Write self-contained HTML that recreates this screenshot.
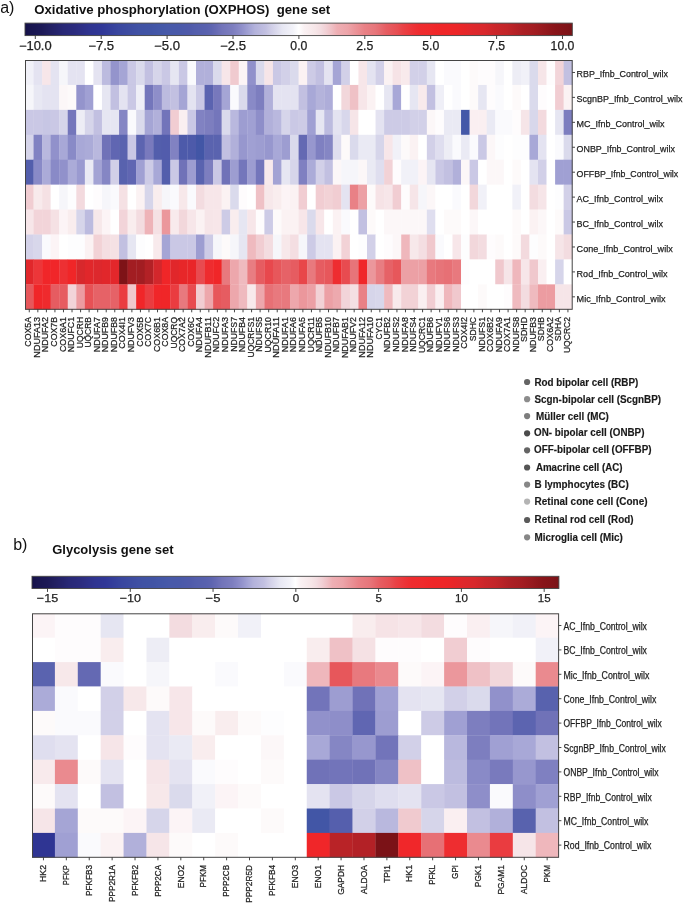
<!DOCTYPE html><html><head><meta charset="utf-8"><style>
.lb{stroke:#1e1e1e;stroke-width:0.25px;}.lg{stroke:#1a1a1a;stroke-width:0.15px;}
html,body{margin:0;padding:0;background:#fff;}
svg{display:block;font-family:"Liberation Sans", sans-serif;filter:blur(0.3px);}
</style></head><body>
<svg width="685" height="904" viewBox="0 0 685 904">
<defs>
<linearGradient id="cbg" x1="0" x2="1" y1="0" y2="0"><stop offset="0" stop-color="#141048"/><stop offset="0.01" stop-color="#18154f"/><stop offset="0.03" stop-color="#1c1957"/><stop offset="0.04" stop-color="#201e5e"/><stop offset="0.05" stop-color="#232166"/><stop offset="0.06" stop-color="#25246e"/><stop offset="0.07" stop-color="#282876"/><stop offset="0.09" stop-color="#2b2b7e"/><stop offset="0.1" stop-color="#2d2e84"/><stop offset="0.11" stop-color="#2e318b"/><stop offset="0.12" stop-color="#2f3491"/><stop offset="0.14" stop-color="#303797"/><stop offset="0.15" stop-color="#333c9a"/><stop offset="0.16" stop-color="#36419c"/><stop offset="0.17" stop-color="#39469f"/><stop offset="0.19" stop-color="#3d4ca1"/><stop offset="0.2" stop-color="#3f4fa3"/><stop offset="0.21" stop-color="#4052a4"/><stop offset="0.23" stop-color="#4154a5"/><stop offset="0.24" stop-color="#4356a7"/><stop offset="0.25" stop-color="#4458a8"/><stop offset="0.26" stop-color="#4759a9"/><stop offset="0.28" stop-color="#4959a9"/><stop offset="0.29" stop-color="#4c5aaa"/><stop offset="0.3" stop-color="#4f5aaa"/><stop offset="0.31" stop-color="#535eac"/><stop offset="0.33" stop-color="#5861ae"/><stop offset="0.34" stop-color="#5d64b0"/><stop offset="0.35" stop-color="#676bb4"/><stop offset="0.36" stop-color="#7274b9"/><stop offset="0.38" stop-color="#7d7ebf"/><stop offset="0.39" stop-color="#8888c6"/><stop offset="0.4" stop-color="#9595cd"/><stop offset="0.41" stop-color="#a4a4d5"/><stop offset="0.42" stop-color="#b3b2db"/><stop offset="0.44" stop-color="#c2c0e1"/><stop offset="0.45" stop-color="#d0cee7"/><stop offset="0.46" stop-color="#dbdaed"/><stop offset="0.47" stop-color="#e7e7f3"/><stop offset="0.49" stop-color="#f3f3f9"/><stop offset="0.5" stop-color="#ffffff"/><stop offset="0.51" stop-color="#faf1f3"/><stop offset="0.53" stop-color="#f6e6e8"/><stop offset="0.54" stop-color="#f3dde1"/><stop offset="0.55" stop-color="#f1d0d5"/><stop offset="0.56" stop-color="#efc1c6"/><stop offset="0.57" stop-color="#eeafb4"/><stop offset="0.59" stop-color="#eda4a9"/><stop offset="0.6" stop-color="#eb989d"/><stop offset="0.61" stop-color="#ea8d92"/><stop offset="0.62" stop-color="#e98186"/><stop offset="0.64" stop-color="#e7767b"/><stop offset="0.65" stop-color="#e66a6f"/><stop offset="0.66" stop-color="#e65d62"/><stop offset="0.68" stop-color="#e74f53"/><stop offset="0.69" stop-color="#e94246"/><stop offset="0.7" stop-color="#eb3a3e"/><stop offset="0.71" stop-color="#ed3236"/><stop offset="0.72" stop-color="#ee2c2f"/><stop offset="0.74" stop-color="#ef2a2c"/><stop offset="0.75" stop-color="#f0272a"/><stop offset="0.76" stop-color="#ef2628"/><stop offset="0.78" stop-color="#ee2628"/><stop offset="0.79" stop-color="#ec2628"/><stop offset="0.8" stop-color="#e82629"/><stop offset="0.81" stop-color="#e3272b"/><stop offset="0.82" stop-color="#de282c"/><stop offset="0.84" stop-color="#d8282c"/><stop offset="0.85" stop-color="#d1272b"/><stop offset="0.86" stop-color="#ca262a"/><stop offset="0.88" stop-color="#c22529"/><stop offset="0.89" stop-color="#ba2327"/><stop offset="0.9" stop-color="#b22126"/><stop offset="0.91" stop-color="#ab1f24"/><stop offset="0.93" stop-color="#a31d22"/><stop offset="0.94" stop-color="#9c1b20"/><stop offset="0.95" stop-color="#95191e"/><stop offset="0.96" stop-color="#8e161b"/><stop offset="0.97" stop-color="#881419"/><stop offset="0.99" stop-color="#801318"/><stop offset="1" stop-color="#781216"/></linearGradient>
</defs>
<rect width="685" height="904" fill="#fff"/>
<text x="0.2" y="12.6" font-size="16" fill="#111">a)</text>
<text x="34.2" y="14.2" font-size="13.7" font-weight="bold" fill="#111" xml:space="preserve" textLength="296.05" lengthAdjust="spacingAndGlyphs">Oxidative phosphorylation (OXPHOS)  gene set</text>
<text x="13.2" y="550.3" font-size="16" fill="#111">b)</text>
<text x="52.2" y="554.0" font-size="13.5" font-weight="bold" fill="#111" textLength="121.4" lengthAdjust="spacingAndGlyphs">Glycolysis gene set</text>
<rect x="25" y="23.1" width="547.3" height="12.5" fill="url(#cbg)" stroke="#444" stroke-width="0.9"/>
<line x1="35.3" x2="35.3" y1="35.6" y2="39" stroke="#333" stroke-width="0.9"/>
<text class="lb" x="35.3" y="49.8" text-anchor="middle" font-size="12" fill="#1e1e1e" textLength="32.79" lengthAdjust="spacingAndGlyphs">−10.0</text>
<line x1="101.2" x2="101.2" y1="35.6" y2="39" stroke="#333" stroke-width="0.9"/>
<text class="lb" x="101.2" y="49.8" text-anchor="middle" font-size="12" fill="#1e1e1e" textLength="25.98" lengthAdjust="spacingAndGlyphs">−7.5</text>
<line x1="167.1" x2="167.1" y1="35.6" y2="39" stroke="#333" stroke-width="0.9"/>
<text class="lb" x="167.1" y="49.8" text-anchor="middle" font-size="12" fill="#1e1e1e" textLength="25.98" lengthAdjust="spacingAndGlyphs">−5.0</text>
<line x1="233" x2="233" y1="35.6" y2="39" stroke="#333" stroke-width="0.9"/>
<text class="lb" x="233" y="49.8" text-anchor="middle" font-size="12" fill="#1e1e1e" textLength="25.98" lengthAdjust="spacingAndGlyphs">−2.5</text>
<line x1="298.9" x2="298.9" y1="35.6" y2="39" stroke="#333" stroke-width="0.9"/>
<text class="lb" x="298.9" y="49.8" text-anchor="middle" font-size="12" fill="#1e1e1e" textLength="17.02" lengthAdjust="spacingAndGlyphs">0.0</text>
<line x1="364.8" x2="364.8" y1="35.6" y2="39" stroke="#333" stroke-width="0.9"/>
<text class="lb" x="364.8" y="49.8" text-anchor="middle" font-size="12" fill="#1e1e1e" textLength="17.02" lengthAdjust="spacingAndGlyphs">2.5</text>
<line x1="430.7" x2="430.7" y1="35.6" y2="39" stroke="#333" stroke-width="0.9"/>
<text class="lb" x="430.7" y="49.8" text-anchor="middle" font-size="12" fill="#1e1e1e" textLength="17.02" lengthAdjust="spacingAndGlyphs">5.0</text>
<line x1="496.6" x2="496.6" y1="35.6" y2="39" stroke="#333" stroke-width="0.9"/>
<text class="lb" x="496.6" y="49.8" text-anchor="middle" font-size="12" fill="#1e1e1e" textLength="17.02" lengthAdjust="spacingAndGlyphs">7.5</text>
<line x1="562.5" x2="562.5" y1="35.6" y2="39" stroke="#333" stroke-width="0.9"/>
<text class="lb" x="562.5" y="49.8" text-anchor="middle" font-size="12" fill="#1e1e1e" textLength="23.82" lengthAdjust="spacingAndGlyphs">10.0</text>
<rect x="25" y="60" width="8.85" height="25.23" fill="#f1f1f8"/>
<rect x="33.55" y="60" width="8.85" height="25.23" fill="#e4e3f1"/>
<rect x="42.1" y="60" width="8.85" height="25.23" fill="#f7e6e9"/>
<rect x="50.65" y="60" width="8.85" height="25.23" fill="#e4e3f1"/>
<rect x="59.2" y="60" width="8.85" height="25.23" fill="#f6f6fa"/>
<rect x="67.75" y="60" width="8.85" height="25.23" fill="#e4e3f1"/>
<rect x="76.3" y="60" width="8.85" height="25.23" fill="#e4e3f1"/>
<rect x="84.85" y="60" width="8.85" height="25.23" fill="#ffffff"/>
<rect x="93.4" y="60" width="8.85" height="25.23" fill="#e4e3f1"/>
<rect x="101.95" y="60" width="8.85" height="25.23" fill="#bcbbdf"/>
<rect x="110.5" y="60" width="8.85" height="25.23" fill="#9494cc"/>
<rect x="119.05" y="60" width="8.85" height="25.23" fill="#a5a5d5"/>
<rect x="127.6" y="60" width="8.85" height="25.23" fill="#cac8e5"/>
<rect x="136.15" y="60" width="8.85" height="25.23" fill="#dadaec"/>
<rect x="144.7" y="60" width="8.85" height="25.23" fill="#c2c0e1"/>
<rect x="153.25" y="60" width="8.85" height="25.23" fill="#d6d5ea"/>
<rect x="161.8" y="60" width="8.85" height="25.23" fill="#cac8e5"/>
<rect x="170.35" y="60" width="8.85" height="25.23" fill="#e6e6f2"/>
<rect x="178.9" y="60" width="8.85" height="25.23" fill="#cac8e5"/>
<rect x="187.45" y="60" width="8.85" height="25.23" fill="#fafafd"/>
<rect x="196" y="60" width="8.85" height="25.23" fill="#b1b0da"/>
<rect x="204.55" y="60" width="8.85" height="25.23" fill="#b1b0da"/>
<rect x="213.1" y="60" width="8.85" height="25.23" fill="#dadaec"/>
<rect x="221.65" y="60" width="8.85" height="25.23" fill="#f7e6e9"/>
<rect x="230.2" y="60" width="8.85" height="25.23" fill="#f0cacf"/>
<rect x="238.75" y="60" width="8.85" height="25.23" fill="#fcf4f6"/>
<rect x="247.3" y="60" width="8.85" height="25.23" fill="#9191cb"/>
<rect x="255.85" y="60" width="8.85" height="25.23" fill="#dadaec"/>
<rect x="264.4" y="60" width="8.85" height="25.23" fill="#f6e5e8"/>
<rect x="272.95" y="60" width="8.85" height="25.23" fill="#cac8e5"/>
<rect x="281.5" y="60" width="8.85" height="25.23" fill="#d2d0e8"/>
<rect x="290.05" y="60" width="8.85" height="25.23" fill="#dadaec"/>
<rect x="298.6" y="60" width="8.85" height="25.23" fill="#fbf2f3"/>
<rect x="307.15" y="60" width="8.85" height="25.23" fill="#cdcbe6"/>
<rect x="315.7" y="60" width="8.85" height="25.23" fill="#c2c0e1"/>
<rect x="324.25" y="60" width="8.85" height="25.23" fill="#e4e3f1"/>
<rect x="332.8" y="60" width="8.85" height="25.23" fill="#a5a5d5"/>
<rect x="341.35" y="60" width="8.85" height="25.23" fill="#d2d0e8"/>
<rect x="349.9" y="60" width="8.85" height="25.23" fill="#ffffff"/>
<rect x="358.45" y="60" width="8.85" height="25.23" fill="#f7e6e9"/>
<rect x="367" y="60" width="8.85" height="25.23" fill="#e4e3f1"/>
<rect x="375.55" y="60" width="8.85" height="25.23" fill="#d2d0e8"/>
<rect x="384.1" y="60" width="8.85" height="25.23" fill="#fbf2f3"/>
<rect x="392.65" y="60" width="8.85" height="25.23" fill="#f6e3e6"/>
<rect x="401.2" y="60" width="8.85" height="25.23" fill="#f8eaec"/>
<rect x="409.75" y="60" width="8.85" height="25.23" fill="#d2d0e8"/>
<rect x="418.3" y="60" width="8.85" height="25.23" fill="#d2d0e8"/>
<rect x="426.85" y="60" width="8.85" height="25.23" fill="#e6e6f2"/>
<rect x="435.4" y="60" width="8.85" height="25.23" fill="#ffffff"/>
<rect x="443.95" y="60" width="8.85" height="25.23" fill="#fafafd"/>
<rect x="452.5" y="60" width="8.85" height="25.23" fill="#fafafd"/>
<rect x="461.05" y="60" width="8.85" height="25.23" fill="#ffffff"/>
<rect x="469.6" y="60" width="8.85" height="25.23" fill="#fdfafa"/>
<rect x="478.15" y="60" width="8.85" height="25.23" fill="#fefcfd"/>
<rect x="486.7" y="60" width="8.85" height="25.23" fill="#fefcfd"/>
<rect x="495.25" y="60" width="8.85" height="25.23" fill="#f6f6fa"/>
<rect x="503.8" y="60" width="8.85" height="25.23" fill="#ffffff"/>
<rect x="512.35" y="60" width="8.85" height="25.23" fill="#ededf5"/>
<rect x="520.9" y="60" width="8.85" height="25.23" fill="#f1f1f8"/>
<rect x="529.45" y="60" width="8.85" height="25.23" fill="#dadaec"/>
<rect x="538" y="60" width="8.85" height="25.23" fill="#f6e5e8"/>
<rect x="546.55" y="60" width="8.85" height="25.23" fill="#fefcfd"/>
<rect x="555.1" y="60" width="8.85" height="25.23" fill="#f2d4d9"/>
<rect x="563.65" y="60" width="8.85" height="25.23" fill="#c2c0e1"/>
<rect x="25" y="84.93" width="8.85" height="25.23" fill="#f6f6fa"/>
<rect x="33.55" y="84.93" width="8.85" height="25.23" fill="#e8e8f3"/>
<rect x="42.1" y="84.93" width="8.85" height="25.23" fill="#e4e3f1"/>
<rect x="50.65" y="84.93" width="8.85" height="25.23" fill="#e4e3f1"/>
<rect x="59.2" y="84.93" width="8.85" height="25.23" fill="#fcf7f8"/>
<rect x="67.75" y="84.93" width="8.85" height="25.23" fill="#fdfafa"/>
<rect x="76.3" y="84.93" width="8.85" height="25.23" fill="#9494cc"/>
<rect x="84.85" y="84.93" width="8.85" height="25.23" fill="#a0a0d3"/>
<rect x="93.4" y="84.93" width="8.85" height="25.23" fill="#ffffff"/>
<rect x="101.95" y="84.93" width="8.85" height="25.23" fill="#e6e6f2"/>
<rect x="110.5" y="84.93" width="8.85" height="25.23" fill="#c2c0e1"/>
<rect x="119.05" y="84.93" width="8.85" height="25.23" fill="#e4e3f1"/>
<rect x="127.6" y="84.93" width="8.85" height="25.23" fill="#cac8e5"/>
<rect x="136.15" y="84.93" width="8.85" height="25.23" fill="#efeff7"/>
<rect x="144.7" y="84.93" width="8.85" height="25.23" fill="#7476bb"/>
<rect x="153.25" y="84.93" width="8.85" height="25.23" fill="#8e8ec9"/>
<rect x="161.8" y="84.93" width="8.85" height="25.23" fill="#bcbbdf"/>
<rect x="170.35" y="84.93" width="8.85" height="25.23" fill="#c2c0e1"/>
<rect x="178.9" y="84.93" width="8.85" height="25.23" fill="#a5a5d5"/>
<rect x="187.45" y="84.93" width="8.85" height="25.23" fill="#e4e3f1"/>
<rect x="196" y="84.93" width="8.85" height="25.23" fill="#cac8e5"/>
<rect x="204.55" y="84.93" width="8.85" height="25.23" fill="#5b63b0"/>
<rect x="213.1" y="84.93" width="8.85" height="25.23" fill="#7778bc"/>
<rect x="221.65" y="84.93" width="8.85" height="25.23" fill="#a5a5d5"/>
<rect x="230.2" y="84.93" width="8.85" height="25.23" fill="#fafafd"/>
<rect x="238.75" y="84.93" width="8.85" height="25.23" fill="#dadaec"/>
<rect x="247.3" y="84.93" width="8.85" height="25.23" fill="#898ac7"/>
<rect x="255.85" y="84.93" width="8.85" height="25.23" fill="#7d7ebf"/>
<rect x="264.4" y="84.93" width="8.85" height="25.23" fill="#b1b0da"/>
<rect x="272.95" y="84.93" width="8.85" height="25.23" fill="#e4e3f1"/>
<rect x="281.5" y="84.93" width="8.85" height="25.23" fill="#e4e3f1"/>
<rect x="290.05" y="84.93" width="8.85" height="25.23" fill="#e4e3f1"/>
<rect x="298.6" y="84.93" width="8.85" height="25.23" fill="#c2c0e1"/>
<rect x="307.15" y="84.93" width="8.85" height="25.23" fill="#a8a8d7"/>
<rect x="315.7" y="84.93" width="8.85" height="25.23" fill="#b4b3db"/>
<rect x="324.25" y="84.93" width="8.85" height="25.23" fill="#aeadd9"/>
<rect x="332.8" y="84.93" width="8.85" height="25.23" fill="#ffffff"/>
<rect x="341.35" y="84.93" width="8.85" height="25.23" fill="#f2d7db"/>
<rect x="349.9" y="84.93" width="8.85" height="25.23" fill="#efc1c6"/>
<rect x="358.45" y="84.93" width="8.85" height="25.23" fill="#f7e6e9"/>
<rect x="367" y="84.93" width="8.85" height="25.23" fill="#fbf2f3"/>
<rect x="375.55" y="84.93" width="8.85" height="25.23" fill="#ffffff"/>
<rect x="384.1" y="84.93" width="8.85" height="25.23" fill="#e6e6f2"/>
<rect x="392.65" y="84.93" width="8.85" height="25.23" fill="#a8a8d7"/>
<rect x="401.2" y="84.93" width="8.85" height="25.23" fill="#ffffff"/>
<rect x="409.75" y="84.93" width="8.85" height="25.23" fill="#e6e6f2"/>
<rect x="418.3" y="84.93" width="8.85" height="25.23" fill="#f8eaec"/>
<rect x="426.85" y="84.93" width="8.85" height="25.23" fill="#c2c0e1"/>
<rect x="435.4" y="84.93" width="8.85" height="25.23" fill="#efeff7"/>
<rect x="443.95" y="84.93" width="8.85" height="25.23" fill="#ffffff"/>
<rect x="452.5" y="84.93" width="8.85" height="25.23" fill="#fafafd"/>
<rect x="461.05" y="84.93" width="8.85" height="25.23" fill="#ffffff"/>
<rect x="469.6" y="84.93" width="8.85" height="25.23" fill="#fdfafa"/>
<rect x="478.15" y="84.93" width="8.85" height="25.23" fill="#e6e6f2"/>
<rect x="486.7" y="84.93" width="8.85" height="25.23" fill="#fefcfd"/>
<rect x="495.25" y="84.93" width="8.85" height="25.23" fill="#fafafd"/>
<rect x="503.8" y="84.93" width="8.85" height="25.23" fill="#ffffff"/>
<rect x="512.35" y="84.93" width="8.85" height="25.23" fill="#fdfafa"/>
<rect x="520.9" y="84.93" width="8.85" height="25.23" fill="#ffffff"/>
<rect x="529.45" y="84.93" width="8.85" height="25.23" fill="#dadaec"/>
<rect x="538" y="84.93" width="8.85" height="25.23" fill="#fefcfd"/>
<rect x="546.55" y="84.93" width="8.85" height="25.23" fill="#ffffff"/>
<rect x="555.1" y="84.93" width="8.85" height="25.23" fill="#f1cdd2"/>
<rect x="563.65" y="84.93" width="8.85" height="25.23" fill="#fbf2f3"/>
<rect x="25" y="109.86" width="8.85" height="25.23" fill="#cac8e5"/>
<rect x="33.55" y="109.86" width="8.85" height="25.23" fill="#cac8e5"/>
<rect x="42.1" y="109.86" width="8.85" height="25.23" fill="#c7c6e4"/>
<rect x="50.65" y="109.86" width="8.85" height="25.23" fill="#cac8e5"/>
<rect x="59.2" y="109.86" width="8.85" height="25.23" fill="#d6d5ea"/>
<rect x="67.75" y="109.86" width="8.85" height="25.23" fill="#7476bb"/>
<rect x="76.3" y="109.86" width="8.85" height="25.23" fill="#ededf5"/>
<rect x="84.85" y="109.86" width="8.85" height="25.23" fill="#d6d5ea"/>
<rect x="93.4" y="109.86" width="8.85" height="25.23" fill="#c2c0e1"/>
<rect x="101.95" y="109.86" width="8.85" height="25.23" fill="#e6e6f2"/>
<rect x="110.5" y="109.86" width="8.85" height="25.23" fill="#e6e6f2"/>
<rect x="119.05" y="109.86" width="8.85" height="25.23" fill="#8586c4"/>
<rect x="127.6" y="109.86" width="8.85" height="25.23" fill="#fafafd"/>
<rect x="136.15" y="109.86" width="8.85" height="25.23" fill="#dadaec"/>
<rect x="144.7" y="109.86" width="8.85" height="25.23" fill="#a5a5d5"/>
<rect x="153.25" y="109.86" width="8.85" height="25.23" fill="#b1b0da"/>
<rect x="161.8" y="109.86" width="8.85" height="25.23" fill="#7274ba"/>
<rect x="170.35" y="109.86" width="8.85" height="25.23" fill="#f1cdd2"/>
<rect x="178.9" y="109.86" width="8.85" height="25.23" fill="#faeff1"/>
<rect x="187.45" y="109.86" width="8.85" height="25.23" fill="#cac8e5"/>
<rect x="196" y="109.86" width="8.85" height="25.23" fill="#8182c2"/>
<rect x="204.55" y="109.86" width="8.85" height="25.23" fill="#7d7ebf"/>
<rect x="213.1" y="109.86" width="8.85" height="25.23" fill="#7476bb"/>
<rect x="221.65" y="109.86" width="8.85" height="25.23" fill="#dadaec"/>
<rect x="230.2" y="109.86" width="8.85" height="25.23" fill="#b9b8de"/>
<rect x="238.75" y="109.86" width="8.85" height="25.23" fill="#9d9dd1"/>
<rect x="247.3" y="109.86" width="8.85" height="25.23" fill="#a0a0d3"/>
<rect x="255.85" y="109.86" width="8.85" height="25.23" fill="#8e8ec9"/>
<rect x="264.4" y="109.86" width="8.85" height="25.23" fill="#b1b0da"/>
<rect x="272.95" y="109.86" width="8.85" height="25.23" fill="#b9b8de"/>
<rect x="281.5" y="109.86" width="8.85" height="25.23" fill="#d6d5ea"/>
<rect x="290.05" y="109.86" width="8.85" height="25.23" fill="#cac8e5"/>
<rect x="298.6" y="109.86" width="8.85" height="25.23" fill="#cdcbe6"/>
<rect x="307.15" y="109.86" width="8.85" height="25.23" fill="#a0a0d3"/>
<rect x="315.7" y="109.86" width="8.85" height="25.23" fill="#e6e6f2"/>
<rect x="324.25" y="109.86" width="8.85" height="25.23" fill="#bcbbdf"/>
<rect x="332.8" y="109.86" width="8.85" height="25.23" fill="#e4e3f1"/>
<rect x="341.35" y="109.86" width="8.85" height="25.23" fill="#d8d7eb"/>
<rect x="349.9" y="109.86" width="8.85" height="25.23" fill="#f6e5e8"/>
<rect x="358.45" y="109.86" width="8.85" height="25.23" fill="#ffffff"/>
<rect x="367" y="109.86" width="8.85" height="25.23" fill="#ffffff"/>
<rect x="375.55" y="109.86" width="8.85" height="25.23" fill="#e4e3f1"/>
<rect x="384.1" y="109.86" width="8.85" height="25.23" fill="#cdcbe6"/>
<rect x="392.65" y="109.86" width="8.85" height="25.23" fill="#cdcbe6"/>
<rect x="401.2" y="109.86" width="8.85" height="25.23" fill="#cdcbe6"/>
<rect x="409.75" y="109.86" width="8.85" height="25.23" fill="#d2d0e8"/>
<rect x="418.3" y="109.86" width="8.85" height="25.23" fill="#d2d0e8"/>
<rect x="426.85" y="109.86" width="8.85" height="25.23" fill="#fcf7f8"/>
<rect x="435.4" y="109.86" width="8.85" height="25.23" fill="#fefcfd"/>
<rect x="443.95" y="109.86" width="8.85" height="25.23" fill="#eaeaf4"/>
<rect x="452.5" y="109.86" width="8.85" height="25.23" fill="#eaeaf4"/>
<rect x="461.05" y="109.86" width="8.85" height="25.23" fill="#4458a8"/>
<rect x="469.6" y="109.86" width="8.85" height="25.23" fill="#faeff1"/>
<rect x="478.15" y="109.86" width="8.85" height="25.23" fill="#faeff1"/>
<rect x="486.7" y="109.86" width="8.85" height="25.23" fill="#eaeaf4"/>
<rect x="495.25" y="109.86" width="8.85" height="25.23" fill="#fafafd"/>
<rect x="503.8" y="109.86" width="8.85" height="25.23" fill="#fafafd"/>
<rect x="512.35" y="109.86" width="8.85" height="25.23" fill="#fefcfd"/>
<rect x="520.9" y="109.86" width="8.85" height="25.23" fill="#f6e5e8"/>
<rect x="529.45" y="109.86" width="8.85" height="25.23" fill="#d8d7eb"/>
<rect x="538" y="109.86" width="8.85" height="25.23" fill="#f3dade"/>
<rect x="546.55" y="109.86" width="8.85" height="25.23" fill="#ffffff"/>
<rect x="555.1" y="109.86" width="8.85" height="25.23" fill="#e6e6f2"/>
<rect x="563.65" y="109.86" width="8.85" height="25.23" fill="#7d7ebf"/>
<rect x="25" y="134.79" width="8.85" height="25.23" fill="#d6d5ea"/>
<rect x="33.55" y="134.79" width="8.85" height="25.23" fill="#8182c2"/>
<rect x="42.1" y="134.79" width="8.85" height="25.23" fill="#b9b8de"/>
<rect x="50.65" y="134.79" width="8.85" height="25.23" fill="#9191cb"/>
<rect x="59.2" y="134.79" width="8.85" height="25.23" fill="#a8a8d7"/>
<rect x="67.75" y="134.79" width="8.85" height="25.23" fill="#898ac7"/>
<rect x="76.3" y="134.79" width="8.85" height="25.23" fill="#a8a8d7"/>
<rect x="84.85" y="134.79" width="8.85" height="25.23" fill="#ababd8"/>
<rect x="93.4" y="134.79" width="8.85" height="25.23" fill="#b9b8de"/>
<rect x="101.95" y="134.79" width="8.85" height="25.23" fill="#7072b8"/>
<rect x="110.5" y="134.79" width="8.85" height="25.23" fill="#6066b2"/>
<rect x="119.05" y="134.79" width="8.85" height="25.23" fill="#5a63af"/>
<rect x="127.6" y="134.79" width="8.85" height="25.23" fill="#cac8e5"/>
<rect x="136.15" y="134.79" width="8.85" height="25.23" fill="#5c64b0"/>
<rect x="144.7" y="134.79" width="8.85" height="25.23" fill="#797abd"/>
<rect x="153.25" y="134.79" width="8.85" height="25.23" fill="#535eac"/>
<rect x="161.8" y="134.79" width="8.85" height="25.23" fill="#525cac"/>
<rect x="170.35" y="134.79" width="8.85" height="25.23" fill="#8182c2"/>
<rect x="178.9" y="134.79" width="8.85" height="25.23" fill="#4d5aaa"/>
<rect x="187.45" y="134.79" width="8.85" height="25.23" fill="#4d5aaa"/>
<rect x="196" y="134.79" width="8.85" height="25.23" fill="#4256a6"/>
<rect x="204.55" y="134.79" width="8.85" height="25.23" fill="#5a63af"/>
<rect x="213.1" y="134.79" width="8.85" height="25.23" fill="#5a63af"/>
<rect x="221.65" y="134.79" width="8.85" height="25.23" fill="#c2c0e1"/>
<rect x="230.2" y="134.79" width="8.85" height="25.23" fill="#b1b0da"/>
<rect x="238.75" y="134.79" width="8.85" height="25.23" fill="#9797ce"/>
<rect x="247.3" y="134.79" width="8.85" height="25.23" fill="#a0a0d3"/>
<rect x="255.85" y="134.79" width="8.85" height="25.23" fill="#9d9dd1"/>
<rect x="264.4" y="134.79" width="8.85" height="25.23" fill="#9797ce"/>
<rect x="272.95" y="134.79" width="8.85" height="25.23" fill="#a8a8d7"/>
<rect x="281.5" y="134.79" width="8.85" height="25.23" fill="#9d9dd1"/>
<rect x="290.05" y="134.79" width="8.85" height="25.23" fill="#dadaec"/>
<rect x="298.6" y="134.79" width="8.85" height="25.23" fill="#6469b3"/>
<rect x="307.15" y="134.79" width="8.85" height="25.23" fill="#9797ce"/>
<rect x="315.7" y="134.79" width="8.85" height="25.23" fill="#7f80c1"/>
<rect x="324.25" y="134.79" width="8.85" height="25.23" fill="#8586c4"/>
<rect x="332.8" y="134.79" width="8.85" height="25.23" fill="#dfdeef"/>
<rect x="341.35" y="134.79" width="8.85" height="25.23" fill="#fdfafa"/>
<rect x="349.9" y="134.79" width="8.85" height="25.23" fill="#dadaec"/>
<rect x="358.45" y="134.79" width="8.85" height="25.23" fill="#eaeaf4"/>
<rect x="367" y="134.79" width="8.85" height="25.23" fill="#eaeaf4"/>
<rect x="375.55" y="134.79" width="8.85" height="25.23" fill="#d6d5ea"/>
<rect x="384.1" y="134.79" width="8.85" height="25.23" fill="#f7e6e9"/>
<rect x="392.65" y="134.79" width="8.85" height="25.23" fill="#f1f1f8"/>
<rect x="401.2" y="134.79" width="8.85" height="25.23" fill="#fdfafa"/>
<rect x="409.75" y="134.79" width="8.85" height="25.23" fill="#fbf2f3"/>
<rect x="418.3" y="134.79" width="8.85" height="25.23" fill="#ffffff"/>
<rect x="426.85" y="134.79" width="8.85" height="25.23" fill="#d2d0e8"/>
<rect x="435.4" y="134.79" width="8.85" height="25.23" fill="#dfdeef"/>
<rect x="443.95" y="134.79" width="8.85" height="25.23" fill="#ededf5"/>
<rect x="452.5" y="134.79" width="8.85" height="25.23" fill="#fafafd"/>
<rect x="461.05" y="134.79" width="8.85" height="25.23" fill="#eaeaf4"/>
<rect x="469.6" y="134.79" width="8.85" height="25.23" fill="#fafafd"/>
<rect x="478.15" y="134.79" width="8.85" height="25.23" fill="#cac8e5"/>
<rect x="486.7" y="134.79" width="8.85" height="25.23" fill="#fcf7f8"/>
<rect x="495.25" y="134.79" width="8.85" height="25.23" fill="#fdfdfe"/>
<rect x="503.8" y="134.79" width="8.85" height="25.23" fill="#ffffff"/>
<rect x="512.35" y="134.79" width="8.85" height="25.23" fill="#fdfdfe"/>
<rect x="520.9" y="134.79" width="8.85" height="25.23" fill="#fdfdfe"/>
<rect x="529.45" y="134.79" width="8.85" height="25.23" fill="#a8a8d7"/>
<rect x="538" y="134.79" width="8.85" height="25.23" fill="#e4e3f1"/>
<rect x="546.55" y="134.79" width="8.85" height="25.23" fill="#ffffff"/>
<rect x="555.1" y="134.79" width="8.85" height="25.23" fill="#fafafd"/>
<rect x="563.65" y="134.79" width="8.85" height="25.23" fill="#dadaec"/>
<rect x="25" y="159.72" width="8.85" height="25.23" fill="#535eac"/>
<rect x="33.55" y="159.72" width="8.85" height="25.23" fill="#898ac7"/>
<rect x="42.1" y="159.72" width="8.85" height="25.23" fill="#ababd8"/>
<rect x="50.65" y="159.72" width="8.85" height="25.23" fill="#898ac7"/>
<rect x="59.2" y="159.72" width="8.85" height="25.23" fill="#9191cb"/>
<rect x="67.75" y="159.72" width="8.85" height="25.23" fill="#ababd8"/>
<rect x="76.3" y="159.72" width="8.85" height="25.23" fill="#9a9ad0"/>
<rect x="84.85" y="159.72" width="8.85" height="25.23" fill="#eaeaf4"/>
<rect x="93.4" y="159.72" width="8.85" height="25.23" fill="#a3a3d4"/>
<rect x="101.95" y="159.72" width="8.85" height="25.23" fill="#8586c4"/>
<rect x="110.5" y="159.72" width="8.85" height="25.23" fill="#d2d0e8"/>
<rect x="119.05" y="159.72" width="8.85" height="25.23" fill="#5862ae"/>
<rect x="127.6" y="159.72" width="8.85" height="25.23" fill="#6066b2"/>
<rect x="136.15" y="159.72" width="8.85" height="25.23" fill="#a0a0d3"/>
<rect x="144.7" y="159.72" width="8.85" height="25.23" fill="#cdcbe6"/>
<rect x="153.25" y="159.72" width="8.85" height="25.23" fill="#a8a8d7"/>
<rect x="161.8" y="159.72" width="8.85" height="25.23" fill="#535eac"/>
<rect x="170.35" y="159.72" width="8.85" height="25.23" fill="#cac8e5"/>
<rect x="178.9" y="159.72" width="8.85" height="25.23" fill="#7072b8"/>
<rect x="187.45" y="159.72" width="8.85" height="25.23" fill="#9d9dd1"/>
<rect x="196" y="159.72" width="8.85" height="25.23" fill="#5a63af"/>
<rect x="204.55" y="159.72" width="8.85" height="25.23" fill="#7d7ebf"/>
<rect x="213.1" y="159.72" width="8.85" height="25.23" fill="#cac8e5"/>
<rect x="221.65" y="159.72" width="8.85" height="25.23" fill="#7072b8"/>
<rect x="230.2" y="159.72" width="8.85" height="25.23" fill="#9d9dd1"/>
<rect x="238.75" y="159.72" width="8.85" height="25.23" fill="#7476bb"/>
<rect x="247.3" y="159.72" width="8.85" height="25.23" fill="#9d9dd1"/>
<rect x="255.85" y="159.72" width="8.85" height="25.23" fill="#7476bb"/>
<rect x="264.4" y="159.72" width="8.85" height="25.23" fill="#f8eaec"/>
<rect x="272.95" y="159.72" width="8.85" height="25.23" fill="#a3a3d4"/>
<rect x="281.5" y="159.72" width="8.85" height="25.23" fill="#e6e6f2"/>
<rect x="290.05" y="159.72" width="8.85" height="25.23" fill="#d6d5ea"/>
<rect x="298.6" y="159.72" width="8.85" height="25.23" fill="#7f80c1"/>
<rect x="307.15" y="159.72" width="8.85" height="25.23" fill="#ababd8"/>
<rect x="315.7" y="159.72" width="8.85" height="25.23" fill="#d2d0e8"/>
<rect x="324.25" y="159.72" width="8.85" height="25.23" fill="#c2c0e1"/>
<rect x="332.8" y="159.72" width="8.85" height="25.23" fill="#fcf7f8"/>
<rect x="341.35" y="159.72" width="8.85" height="25.23" fill="#f6f6fa"/>
<rect x="349.9" y="159.72" width="8.85" height="25.23" fill="#f6f6fa"/>
<rect x="358.45" y="159.72" width="8.85" height="25.23" fill="#fcf7f8"/>
<rect x="367" y="159.72" width="8.85" height="25.23" fill="#eaeaf4"/>
<rect x="375.55" y="159.72" width="8.85" height="25.23" fill="#dfdeef"/>
<rect x="384.1" y="159.72" width="8.85" height="25.23" fill="#f2d2d6"/>
<rect x="392.65" y="159.72" width="8.85" height="25.23" fill="#fefcfd"/>
<rect x="401.2" y="159.72" width="8.85" height="25.23" fill="#f1f1f8"/>
<rect x="409.75" y="159.72" width="8.85" height="25.23" fill="#f1f1f8"/>
<rect x="418.3" y="159.72" width="8.85" height="25.23" fill="#fcf4f6"/>
<rect x="426.85" y="159.72" width="8.85" height="25.23" fill="#e6e6f2"/>
<rect x="435.4" y="159.72" width="8.85" height="25.23" fill="#cac8e5"/>
<rect x="443.95" y="159.72" width="8.85" height="25.23" fill="#c2c0e1"/>
<rect x="452.5" y="159.72" width="8.85" height="25.23" fill="#b1b0da"/>
<rect x="461.05" y="159.72" width="8.85" height="25.23" fill="#fcf7f8"/>
<rect x="469.6" y="159.72" width="8.85" height="25.23" fill="#cac8e5"/>
<rect x="478.15" y="159.72" width="8.85" height="25.23" fill="#ffffff"/>
<rect x="486.7" y="159.72" width="8.85" height="25.23" fill="#fcf7f8"/>
<rect x="495.25" y="159.72" width="8.85" height="25.23" fill="#fcf7f8"/>
<rect x="503.8" y="159.72" width="8.85" height="25.23" fill="#ffffff"/>
<rect x="512.35" y="159.72" width="8.85" height="25.23" fill="#fdfafa"/>
<rect x="520.9" y="159.72" width="8.85" height="25.23" fill="#ffffff"/>
<rect x="529.45" y="159.72" width="8.85" height="25.23" fill="#e4e3f1"/>
<rect x="538" y="159.72" width="8.85" height="25.23" fill="#d2d0e8"/>
<rect x="546.55" y="159.72" width="8.85" height="25.23" fill="#ffffff"/>
<rect x="555.1" y="159.72" width="8.85" height="25.23" fill="#a0a0d3"/>
<rect x="563.65" y="159.72" width="8.85" height="25.23" fill="#a0a0d3"/>
<rect x="25" y="184.65" width="8.85" height="25.23" fill="#f1cdd2"/>
<rect x="33.55" y="184.65" width="8.85" height="25.23" fill="#f8eaec"/>
<rect x="42.1" y="184.65" width="8.85" height="25.23" fill="#f5e1e4"/>
<rect x="50.65" y="184.65" width="8.85" height="25.23" fill="#ffffff"/>
<rect x="59.2" y="184.65" width="8.85" height="25.23" fill="#f6f6fa"/>
<rect x="67.75" y="184.65" width="8.85" height="25.23" fill="#fdfdfe"/>
<rect x="76.3" y="184.65" width="8.85" height="25.23" fill="#f3dade"/>
<rect x="84.85" y="184.65" width="8.85" height="25.23" fill="#ffffff"/>
<rect x="93.4" y="184.65" width="8.85" height="25.23" fill="#fefcfd"/>
<rect x="101.95" y="184.65" width="8.85" height="25.23" fill="#f6f6fa"/>
<rect x="110.5" y="184.65" width="8.85" height="25.23" fill="#fafafd"/>
<rect x="119.05" y="184.65" width="8.85" height="25.23" fill="#f5e1e4"/>
<rect x="127.6" y="184.65" width="8.85" height="25.23" fill="#ffffff"/>
<rect x="136.15" y="184.65" width="8.85" height="25.23" fill="#fbf2f3"/>
<rect x="144.7" y="184.65" width="8.85" height="25.23" fill="#d6d5ea"/>
<rect x="153.25" y="184.65" width="8.85" height="25.23" fill="#f9edee"/>
<rect x="161.8" y="184.65" width="8.85" height="25.23" fill="#f6f6fa"/>
<rect x="170.35" y="184.65" width="8.85" height="25.23" fill="#fafafd"/>
<rect x="178.9" y="184.65" width="8.85" height="25.23" fill="#f7e8ea"/>
<rect x="187.45" y="184.65" width="8.85" height="25.23" fill="#fafafd"/>
<rect x="196" y="184.65" width="8.85" height="25.23" fill="#f3dce0"/>
<rect x="204.55" y="184.65" width="8.85" height="25.23" fill="#f7e6e9"/>
<rect x="213.1" y="184.65" width="8.85" height="25.23" fill="#f7e6e9"/>
<rect x="221.65" y="184.65" width="8.85" height="25.23" fill="#fbf2f3"/>
<rect x="230.2" y="184.65" width="8.85" height="25.23" fill="#dadaec"/>
<rect x="238.75" y="184.65" width="8.85" height="25.23" fill="#fefcfd"/>
<rect x="247.3" y="184.65" width="8.85" height="25.23" fill="#ffffff"/>
<rect x="255.85" y="184.65" width="8.85" height="25.23" fill="#efc1c6"/>
<rect x="264.4" y="184.65" width="8.85" height="25.23" fill="#f7e8ea"/>
<rect x="272.95" y="184.65" width="8.85" height="25.23" fill="#f9edee"/>
<rect x="281.5" y="184.65" width="8.85" height="25.23" fill="#fcf4f6"/>
<rect x="290.05" y="184.65" width="8.85" height="25.23" fill="#fbf2f3"/>
<rect x="298.6" y="184.65" width="8.85" height="25.23" fill="#f1cdd2"/>
<rect x="307.15" y="184.65" width="8.85" height="25.23" fill="#ffffff"/>
<rect x="315.7" y="184.65" width="8.85" height="25.23" fill="#f1cdd2"/>
<rect x="324.25" y="184.65" width="8.85" height="25.23" fill="#f2d2d6"/>
<rect x="332.8" y="184.65" width="8.85" height="25.23" fill="#f1cdd2"/>
<rect x="341.35" y="184.65" width="8.85" height="25.23" fill="#e4e3f1"/>
<rect x="349.9" y="184.65" width="8.85" height="25.23" fill="#e98186"/>
<rect x="358.45" y="184.65" width="8.85" height="25.23" fill="#eca0a5"/>
<rect x="367" y="184.65" width="8.85" height="25.23" fill="#fdfafa"/>
<rect x="375.55" y="184.65" width="8.85" height="25.23" fill="#f6e3e6"/>
<rect x="384.1" y="184.65" width="8.85" height="25.23" fill="#f7e6e9"/>
<rect x="392.65" y="184.65" width="8.85" height="25.23" fill="#f1cdd2"/>
<rect x="401.2" y="184.65" width="8.85" height="25.23" fill="#fefcfd"/>
<rect x="409.75" y="184.65" width="8.85" height="25.23" fill="#f6e5e8"/>
<rect x="418.3" y="184.65" width="8.85" height="25.23" fill="#f6f6fa"/>
<rect x="426.85" y="184.65" width="8.85" height="25.23" fill="#fcf7f8"/>
<rect x="435.4" y="184.65" width="8.85" height="25.23" fill="#ffffff"/>
<rect x="443.95" y="184.65" width="8.85" height="25.23" fill="#ffffff"/>
<rect x="452.5" y="184.65" width="8.85" height="25.23" fill="#fafafd"/>
<rect x="461.05" y="184.65" width="8.85" height="25.23" fill="#ffffff"/>
<rect x="469.6" y="184.65" width="8.85" height="25.23" fill="#f2d7db"/>
<rect x="478.15" y="184.65" width="8.85" height="25.23" fill="#f1f1f8"/>
<rect x="486.7" y="184.65" width="8.85" height="25.23" fill="#ffffff"/>
<rect x="495.25" y="184.65" width="8.85" height="25.23" fill="#ffffff"/>
<rect x="503.8" y="184.65" width="8.85" height="25.23" fill="#ffffff"/>
<rect x="512.35" y="184.65" width="8.85" height="25.23" fill="#f1f1f8"/>
<rect x="520.9" y="184.65" width="8.85" height="25.23" fill="#ffffff"/>
<rect x="529.45" y="184.65" width="8.85" height="25.23" fill="#f3dce0"/>
<rect x="538" y="184.65" width="8.85" height="25.23" fill="#f6e5e8"/>
<rect x="546.55" y="184.65" width="8.85" height="25.23" fill="#ffffff"/>
<rect x="555.1" y="184.65" width="8.85" height="25.23" fill="#fdfdfe"/>
<rect x="563.65" y="184.65" width="8.85" height="25.23" fill="#d2d0e8"/>
<rect x="25" y="209.58" width="8.85" height="25.23" fill="#f7e6e9"/>
<rect x="33.55" y="209.58" width="8.85" height="25.23" fill="#f2d4d9"/>
<rect x="42.1" y="209.58" width="8.85" height="25.23" fill="#f2d4d9"/>
<rect x="50.65" y="209.58" width="8.85" height="25.23" fill="#f5e1e4"/>
<rect x="59.2" y="209.58" width="8.85" height="25.23" fill="#fcf4f6"/>
<rect x="67.75" y="209.58" width="8.85" height="25.23" fill="#f9edee"/>
<rect x="76.3" y="209.58" width="8.85" height="25.23" fill="#d6d5ea"/>
<rect x="84.85" y="209.58" width="8.85" height="25.23" fill="#bcbbdf"/>
<rect x="93.4" y="209.58" width="8.85" height="25.23" fill="#f7e8ea"/>
<rect x="101.95" y="209.58" width="8.85" height="25.23" fill="#fcf4f6"/>
<rect x="110.5" y="209.58" width="8.85" height="25.23" fill="#ffffff"/>
<rect x="119.05" y="209.58" width="8.85" height="25.23" fill="#f2d4d9"/>
<rect x="127.6" y="209.58" width="8.85" height="25.23" fill="#f9edee"/>
<rect x="136.15" y="209.58" width="8.85" height="25.23" fill="#f3dce0"/>
<rect x="144.7" y="209.58" width="8.85" height="25.23" fill="#eeb3b8"/>
<rect x="153.25" y="209.58" width="8.85" height="25.23" fill="#f5e1e4"/>
<rect x="161.8" y="209.58" width="8.85" height="25.23" fill="#eb979c"/>
<rect x="170.35" y="209.58" width="8.85" height="25.23" fill="#f8eaec"/>
<rect x="178.9" y="209.58" width="8.85" height="25.23" fill="#f2d7db"/>
<rect x="187.45" y="209.58" width="8.85" height="25.23" fill="#f7e6e9"/>
<rect x="196" y="209.58" width="8.85" height="25.23" fill="#fbf2f3"/>
<rect x="204.55" y="209.58" width="8.85" height="25.23" fill="#f6e5e8"/>
<rect x="213.1" y="209.58" width="8.85" height="25.23" fill="#f7e6e9"/>
<rect x="221.65" y="209.58" width="8.85" height="25.23" fill="#cdcbe6"/>
<rect x="230.2" y="209.58" width="8.85" height="25.23" fill="#f9edee"/>
<rect x="238.75" y="209.58" width="8.85" height="25.23" fill="#e6e6f2"/>
<rect x="247.3" y="209.58" width="8.85" height="25.23" fill="#f7e6e9"/>
<rect x="255.85" y="209.58" width="8.85" height="25.23" fill="#fefcfd"/>
<rect x="264.4" y="209.58" width="8.85" height="25.23" fill="#cdcbe6"/>
<rect x="272.95" y="209.58" width="8.85" height="25.23" fill="#fdfafa"/>
<rect x="281.5" y="209.58" width="8.85" height="25.23" fill="#fbf2f3"/>
<rect x="290.05" y="209.58" width="8.85" height="25.23" fill="#fbf2f3"/>
<rect x="298.6" y="209.58" width="8.85" height="25.23" fill="#f7e6e9"/>
<rect x="307.15" y="209.58" width="8.85" height="25.23" fill="#dadaec"/>
<rect x="315.7" y="209.58" width="8.85" height="25.23" fill="#f7e6e9"/>
<rect x="324.25" y="209.58" width="8.85" height="25.23" fill="#ffffff"/>
<rect x="332.8" y="209.58" width="8.85" height="25.23" fill="#fbf2f3"/>
<rect x="341.35" y="209.58" width="8.85" height="25.23" fill="#fafafd"/>
<rect x="349.9" y="209.58" width="8.85" height="25.23" fill="#ffffff"/>
<rect x="358.45" y="209.58" width="8.85" height="25.23" fill="#c2c0e1"/>
<rect x="367" y="209.58" width="8.85" height="25.23" fill="#fdfafa"/>
<rect x="375.55" y="209.58" width="8.85" height="25.23" fill="#ffffff"/>
<rect x="384.1" y="209.58" width="8.85" height="25.23" fill="#fcf7f8"/>
<rect x="392.65" y="209.58" width="8.85" height="25.23" fill="#fcf7f8"/>
<rect x="401.2" y="209.58" width="8.85" height="25.23" fill="#fcf7f8"/>
<rect x="409.75" y="209.58" width="8.85" height="25.23" fill="#fcf7f8"/>
<rect x="418.3" y="209.58" width="8.85" height="25.23" fill="#fcf7f8"/>
<rect x="426.85" y="209.58" width="8.85" height="25.23" fill="#dfdeef"/>
<rect x="435.4" y="209.58" width="8.85" height="25.23" fill="#ffffff"/>
<rect x="443.95" y="209.58" width="8.85" height="25.23" fill="#fdfafa"/>
<rect x="452.5" y="209.58" width="8.85" height="25.23" fill="#fdfafa"/>
<rect x="461.05" y="209.58" width="8.85" height="25.23" fill="#ffffff"/>
<rect x="469.6" y="209.58" width="8.85" height="25.23" fill="#fcf7f8"/>
<rect x="478.15" y="209.58" width="8.85" height="25.23" fill="#ffffff"/>
<rect x="486.7" y="209.58" width="8.85" height="25.23" fill="#ffffff"/>
<rect x="495.25" y="209.58" width="8.85" height="25.23" fill="#ffffff"/>
<rect x="503.8" y="209.58" width="8.85" height="25.23" fill="#ffffff"/>
<rect x="512.35" y="209.58" width="8.85" height="25.23" fill="#fdfafa"/>
<rect x="520.9" y="209.58" width="8.85" height="25.23" fill="#ffffff"/>
<rect x="529.45" y="209.58" width="8.85" height="25.23" fill="#fbf2f3"/>
<rect x="538" y="209.58" width="8.85" height="25.23" fill="#fcf7f8"/>
<rect x="546.55" y="209.58" width="8.85" height="25.23" fill="#ffffff"/>
<rect x="555.1" y="209.58" width="8.85" height="25.23" fill="#fdfafa"/>
<rect x="563.65" y="209.58" width="8.85" height="25.23" fill="#cac8e5"/>
<rect x="25" y="234.51" width="8.85" height="25.23" fill="#d4d2e9"/>
<rect x="33.55" y="234.51" width="8.85" height="25.23" fill="#d8d7eb"/>
<rect x="42.1" y="234.51" width="8.85" height="25.23" fill="#fafafd"/>
<rect x="50.65" y="234.51" width="8.85" height="25.23" fill="#fcf4f6"/>
<rect x="59.2" y="234.51" width="8.85" height="25.23" fill="#ffffff"/>
<rect x="67.75" y="234.51" width="8.85" height="25.23" fill="#fdfdfe"/>
<rect x="76.3" y="234.51" width="8.85" height="25.23" fill="#fdfdfe"/>
<rect x="84.85" y="234.51" width="8.85" height="25.23" fill="#fbf2f3"/>
<rect x="93.4" y="234.51" width="8.85" height="25.23" fill="#f2d2d6"/>
<rect x="101.95" y="234.51" width="8.85" height="25.23" fill="#f4dee2"/>
<rect x="110.5" y="234.51" width="8.85" height="25.23" fill="#f5e1e4"/>
<rect x="119.05" y="234.51" width="8.85" height="25.23" fill="#c2c0e1"/>
<rect x="127.6" y="234.51" width="8.85" height="25.23" fill="#e6e6f2"/>
<rect x="136.15" y="234.51" width="8.85" height="25.23" fill="#fdfdfe"/>
<rect x="144.7" y="234.51" width="8.85" height="25.23" fill="#ffffff"/>
<rect x="153.25" y="234.51" width="8.85" height="25.23" fill="#f8eaec"/>
<rect x="161.8" y="234.51" width="8.85" height="25.23" fill="#a5a5d5"/>
<rect x="170.35" y="234.51" width="8.85" height="25.23" fill="#cac8e5"/>
<rect x="178.9" y="234.51" width="8.85" height="25.23" fill="#cac8e5"/>
<rect x="187.45" y="234.51" width="8.85" height="25.23" fill="#cac8e5"/>
<rect x="196" y="234.51" width="8.85" height="25.23" fill="#9d9dd1"/>
<rect x="204.55" y="234.51" width="8.85" height="25.23" fill="#cdcbe6"/>
<rect x="213.1" y="234.51" width="8.85" height="25.23" fill="#f6f6fa"/>
<rect x="221.65" y="234.51" width="8.85" height="25.23" fill="#fdfafa"/>
<rect x="230.2" y="234.51" width="8.85" height="25.23" fill="#f6f6fa"/>
<rect x="238.75" y="234.51" width="8.85" height="25.23" fill="#e6e6f2"/>
<rect x="247.3" y="234.51" width="8.85" height="25.23" fill="#efbabf"/>
<rect x="255.85" y="234.51" width="8.85" height="25.23" fill="#f1cdd2"/>
<rect x="264.4" y="234.51" width="8.85" height="25.23" fill="#f3dce0"/>
<rect x="272.95" y="234.51" width="8.85" height="25.23" fill="#f6f6fa"/>
<rect x="281.5" y="234.51" width="8.85" height="25.23" fill="#f7e8ea"/>
<rect x="290.05" y="234.51" width="8.85" height="25.23" fill="#f4dee2"/>
<rect x="298.6" y="234.51" width="8.85" height="25.23" fill="#f6f6fa"/>
<rect x="307.15" y="234.51" width="8.85" height="25.23" fill="#cdcbe6"/>
<rect x="315.7" y="234.51" width="8.85" height="25.23" fill="#e4e3f1"/>
<rect x="324.25" y="234.51" width="8.85" height="25.23" fill="#e4e3f1"/>
<rect x="332.8" y="234.51" width="8.85" height="25.23" fill="#fbf2f3"/>
<rect x="341.35" y="234.51" width="8.85" height="25.23" fill="#f2d2d6"/>
<rect x="349.9" y="234.51" width="8.85" height="25.23" fill="#ffffff"/>
<rect x="358.45" y="234.51" width="8.85" height="25.23" fill="#fdfdfe"/>
<rect x="367" y="234.51" width="8.85" height="25.23" fill="#d2d0e8"/>
<rect x="375.55" y="234.51" width="8.85" height="25.23" fill="#ffffff"/>
<rect x="384.1" y="234.51" width="8.85" height="25.23" fill="#fefcfd"/>
<rect x="392.65" y="234.51" width="8.85" height="25.23" fill="#fcf7f8"/>
<rect x="401.2" y="234.51" width="8.85" height="25.23" fill="#efb7bc"/>
<rect x="409.75" y="234.51" width="8.85" height="25.23" fill="#f7e8ea"/>
<rect x="418.3" y="234.51" width="8.85" height="25.23" fill="#f4dee2"/>
<rect x="426.85" y="234.51" width="8.85" height="25.23" fill="#f0c8cd"/>
<rect x="435.4" y="234.51" width="8.85" height="25.23" fill="#fafafd"/>
<rect x="443.95" y="234.51" width="8.85" height="25.23" fill="#ffffff"/>
<rect x="452.5" y="234.51" width="8.85" height="25.23" fill="#f7e6e9"/>
<rect x="461.05" y="234.51" width="8.85" height="25.23" fill="#fdfdfe"/>
<rect x="469.6" y="234.51" width="8.85" height="25.23" fill="#f2d7db"/>
<rect x="478.15" y="234.51" width="8.85" height="25.23" fill="#f3dce0"/>
<rect x="486.7" y="234.51" width="8.85" height="25.23" fill="#fefcfd"/>
<rect x="495.25" y="234.51" width="8.85" height="25.23" fill="#fdfafa"/>
<rect x="503.8" y="234.51" width="8.85" height="25.23" fill="#ffffff"/>
<rect x="512.35" y="234.51" width="8.85" height="25.23" fill="#fdfafa"/>
<rect x="520.9" y="234.51" width="8.85" height="25.23" fill="#f3dade"/>
<rect x="529.45" y="234.51" width="8.85" height="25.23" fill="#fdfdfe"/>
<rect x="538" y="234.51" width="8.85" height="25.23" fill="#fdfafa"/>
<rect x="546.55" y="234.51" width="8.85" height="25.23" fill="#ffffff"/>
<rect x="555.1" y="234.51" width="8.85" height="25.23" fill="#f6e5e8"/>
<rect x="563.65" y="234.51" width="8.85" height="25.23" fill="#f3dce0"/>
<rect x="25" y="259.44" width="8.85" height="25.23" fill="#e1272b"/>
<rect x="33.55" y="259.44" width="8.85" height="25.23" fill="#ec3639"/>
<rect x="42.1" y="259.44" width="8.85" height="25.23" fill="#f02629"/>
<rect x="50.65" y="259.44" width="8.85" height="25.23" fill="#f02629"/>
<rect x="59.2" y="259.44" width="8.85" height="25.23" fill="#ed3033"/>
<rect x="67.75" y="259.44" width="8.85" height="25.23" fill="#f02628"/>
<rect x="76.3" y="259.44" width="8.85" height="25.23" fill="#d8282c"/>
<rect x="84.85" y="259.44" width="8.85" height="25.23" fill="#e1272b"/>
<rect x="93.4" y="259.44" width="8.85" height="25.23" fill="#dd282d"/>
<rect x="101.95" y="259.44" width="8.85" height="25.23" fill="#e1272b"/>
<rect x="110.5" y="259.44" width="8.85" height="25.23" fill="#e3272b"/>
<rect x="119.05" y="259.44" width="8.85" height="25.23" fill="#7e1317"/>
<rect x="127.6" y="259.44" width="8.85" height="25.23" fill="#a21d22"/>
<rect x="136.15" y="259.44" width="8.85" height="25.23" fill="#a21d22"/>
<rect x="144.7" y="259.44" width="8.85" height="25.23" fill="#b32126"/>
<rect x="153.25" y="259.44" width="8.85" height="25.23" fill="#d3272c"/>
<rect x="161.8" y="259.44" width="8.85" height="25.23" fill="#f02628"/>
<rect x="170.35" y="259.44" width="8.85" height="25.23" fill="#e1272b"/>
<rect x="178.9" y="259.44" width="8.85" height="25.23" fill="#e72729"/>
<rect x="187.45" y="259.44" width="8.85" height="25.23" fill="#e92629"/>
<rect x="196" y="259.44" width="8.85" height="25.23" fill="#e84b50"/>
<rect x="204.55" y="259.44" width="8.85" height="25.23" fill="#ee2c2f"/>
<rect x="213.1" y="259.44" width="8.85" height="25.23" fill="#f02628"/>
<rect x="221.65" y="259.44" width="8.85" height="25.23" fill="#e8797e"/>
<rect x="230.2" y="259.44" width="8.85" height="25.23" fill="#eda7ac"/>
<rect x="238.75" y="259.44" width="8.85" height="25.23" fill="#efbabf"/>
<rect x="247.3" y="259.44" width="8.85" height="25.23" fill="#e87d82"/>
<rect x="255.85" y="259.44" width="8.85" height="25.23" fill="#e65c61"/>
<rect x="264.4" y="259.44" width="8.85" height="25.23" fill="#e8484d"/>
<rect x="272.95" y="259.44" width="8.85" height="25.23" fill="#e7575b"/>
<rect x="281.5" y="259.44" width="8.85" height="25.23" fill="#e66267"/>
<rect x="290.05" y="259.44" width="8.85" height="25.23" fill="#e65c61"/>
<rect x="298.6" y="259.44" width="8.85" height="25.23" fill="#e8464a"/>
<rect x="307.15" y="259.44" width="8.85" height="25.23" fill="#e8797e"/>
<rect x="315.7" y="259.44" width="8.85" height="25.23" fill="#e65c61"/>
<rect x="324.25" y="259.44" width="8.85" height="25.23" fill="#e7575b"/>
<rect x="332.8" y="259.44" width="8.85" height="25.23" fill="#ee2d30"/>
<rect x="341.35" y="259.44" width="8.85" height="25.23" fill="#e84b50"/>
<rect x="349.9" y="259.44" width="8.85" height="25.23" fill="#e77479"/>
<rect x="358.45" y="259.44" width="8.85" height="25.23" fill="#f02629"/>
<rect x="367" y="259.44" width="8.85" height="25.23" fill="#eb979c"/>
<rect x="375.55" y="259.44" width="8.85" height="25.23" fill="#e87d82"/>
<rect x="384.1" y="259.44" width="8.85" height="25.23" fill="#e66267"/>
<rect x="392.65" y="259.44" width="8.85" height="25.23" fill="#e7575b"/>
<rect x="401.2" y="259.44" width="8.85" height="25.23" fill="#eca0a5"/>
<rect x="409.75" y="259.44" width="8.85" height="25.23" fill="#eca0a5"/>
<rect x="418.3" y="259.44" width="8.85" height="25.23" fill="#eca0a5"/>
<rect x="426.85" y="259.44" width="8.85" height="25.23" fill="#e8797e"/>
<rect x="435.4" y="259.44" width="8.85" height="25.23" fill="#e77479"/>
<rect x="443.95" y="259.44" width="8.85" height="25.23" fill="#e77075"/>
<rect x="452.5" y="259.44" width="8.85" height="25.23" fill="#e8797e"/>
<rect x="461.05" y="259.44" width="8.85" height="25.23" fill="#fdfdfe"/>
<rect x="469.6" y="259.44" width="8.85" height="25.23" fill="#ffffff"/>
<rect x="478.15" y="259.44" width="8.85" height="25.23" fill="#ffffff"/>
<rect x="486.7" y="259.44" width="8.85" height="25.23" fill="#ffffff"/>
<rect x="495.25" y="259.44" width="8.85" height="25.23" fill="#f0c8cd"/>
<rect x="503.8" y="259.44" width="8.85" height="25.23" fill="#f6e5e8"/>
<rect x="512.35" y="259.44" width="8.85" height="25.23" fill="#efb7bc"/>
<rect x="520.9" y="259.44" width="8.85" height="25.23" fill="#f7e6e9"/>
<rect x="529.45" y="259.44" width="8.85" height="25.23" fill="#f0c8cd"/>
<rect x="538" y="259.44" width="8.85" height="25.23" fill="#faeff1"/>
<rect x="546.55" y="259.44" width="8.85" height="25.23" fill="#ffffff"/>
<rect x="555.1" y="259.44" width="8.85" height="25.23" fill="#d6d5ea"/>
<rect x="563.65" y="259.44" width="8.85" height="25.23" fill="#ffffff"/>
<rect x="25" y="284.37" width="8.85" height="25.23" fill="#e7575b"/>
<rect x="33.55" y="284.37" width="8.85" height="25.23" fill="#f02629"/>
<rect x="42.1" y="284.37" width="8.85" height="25.23" fill="#ef2a2d"/>
<rect x="50.65" y="284.37" width="8.85" height="25.23" fill="#e65c61"/>
<rect x="59.2" y="284.37" width="8.85" height="25.23" fill="#e65c61"/>
<rect x="67.75" y="284.37" width="8.85" height="25.23" fill="#f2d4d9"/>
<rect x="76.3" y="284.37" width="8.85" height="25.23" fill="#ec9ca1"/>
<rect x="84.85" y="284.37" width="8.85" height="25.23" fill="#e75155"/>
<rect x="93.4" y="284.37" width="8.85" height="25.23" fill="#e66267"/>
<rect x="101.95" y="284.37" width="8.85" height="25.23" fill="#e66267"/>
<rect x="110.5" y="284.37" width="8.85" height="25.23" fill="#e66267"/>
<rect x="119.05" y="284.37" width="8.85" height="25.23" fill="#ea3c40"/>
<rect x="127.6" y="284.37" width="8.85" height="25.23" fill="#f0c8cd"/>
<rect x="136.15" y="284.37" width="8.85" height="25.23" fill="#f02629"/>
<rect x="144.7" y="284.37" width="8.85" height="25.23" fill="#ea3c40"/>
<rect x="153.25" y="284.37" width="8.85" height="25.23" fill="#f02629"/>
<rect x="161.8" y="284.37" width="8.85" height="25.23" fill="#f02628"/>
<rect x="170.35" y="284.37" width="8.85" height="25.23" fill="#ea3c40"/>
<rect x="178.9" y="284.37" width="8.85" height="25.23" fill="#e8797e"/>
<rect x="187.45" y="284.37" width="8.85" height="25.23" fill="#e84b50"/>
<rect x="196" y="284.37" width="8.85" height="25.23" fill="#f1cdd2"/>
<rect x="204.55" y="284.37" width="8.85" height="25.23" fill="#eda7ac"/>
<rect x="213.1" y="284.37" width="8.85" height="25.23" fill="#e7575b"/>
<rect x="221.65" y="284.37" width="8.85" height="25.23" fill="#e65c61"/>
<rect x="230.2" y="284.37" width="8.85" height="25.23" fill="#eda7ac"/>
<rect x="238.75" y="284.37" width="8.85" height="25.23" fill="#efbabf"/>
<rect x="247.3" y="284.37" width="8.85" height="25.23" fill="#f8eaec"/>
<rect x="255.85" y="284.37" width="8.85" height="25.23" fill="#eda7ac"/>
<rect x="264.4" y="284.37" width="8.85" height="25.23" fill="#e77075"/>
<rect x="272.95" y="284.37" width="8.85" height="25.23" fill="#e8797e"/>
<rect x="281.5" y="284.37" width="8.85" height="25.23" fill="#e8797e"/>
<rect x="290.05" y="284.37" width="8.85" height="25.23" fill="#eda7ac"/>
<rect x="298.6" y="284.37" width="8.85" height="25.23" fill="#eb979c"/>
<rect x="307.15" y="284.37" width="8.85" height="25.23" fill="#eca0a5"/>
<rect x="315.7" y="284.37" width="8.85" height="25.23" fill="#f2d2d6"/>
<rect x="324.25" y="284.37" width="8.85" height="25.23" fill="#eca0a5"/>
<rect x="332.8" y="284.37" width="8.85" height="25.23" fill="#eda9ae"/>
<rect x="341.35" y="284.37" width="8.85" height="25.23" fill="#f2d4d9"/>
<rect x="349.9" y="284.37" width="8.85" height="25.23" fill="#f4e0e3"/>
<rect x="358.45" y="284.37" width="8.85" height="25.23" fill="#e98186"/>
<rect x="367" y="284.37" width="8.85" height="25.23" fill="#d6d5ea"/>
<rect x="375.55" y="284.37" width="8.85" height="25.23" fill="#d8d7eb"/>
<rect x="384.1" y="284.37" width="8.85" height="25.23" fill="#efbabf"/>
<rect x="392.65" y="284.37" width="8.85" height="25.23" fill="#f8eaec"/>
<rect x="401.2" y="284.37" width="8.85" height="25.23" fill="#f2d2d6"/>
<rect x="409.75" y="284.37" width="8.85" height="25.23" fill="#f2d2d6"/>
<rect x="418.3" y="284.37" width="8.85" height="25.23" fill="#faeff1"/>
<rect x="426.85" y="284.37" width="8.85" height="25.23" fill="#f1cdd2"/>
<rect x="435.4" y="284.37" width="8.85" height="25.23" fill="#faeff1"/>
<rect x="443.95" y="284.37" width="8.85" height="25.23" fill="#efb7bc"/>
<rect x="452.5" y="284.37" width="8.85" height="25.23" fill="#f0c8cd"/>
<rect x="461.05" y="284.37" width="8.85" height="25.23" fill="#ffffff"/>
<rect x="469.6" y="284.37" width="8.85" height="25.23" fill="#ffffff"/>
<rect x="478.15" y="284.37" width="8.85" height="25.23" fill="#fdfafa"/>
<rect x="486.7" y="284.37" width="8.85" height="25.23" fill="#ffffff"/>
<rect x="495.25" y="284.37" width="8.85" height="25.23" fill="#ffffff"/>
<rect x="503.8" y="284.37" width="8.85" height="25.23" fill="#fefcfd"/>
<rect x="512.35" y="284.37" width="8.85" height="25.23" fill="#efbabf"/>
<rect x="520.9" y="284.37" width="8.85" height="25.23" fill="#f3dce0"/>
<rect x="529.45" y="284.37" width="8.85" height="25.23" fill="#efbabf"/>
<rect x="538" y="284.37" width="8.85" height="25.23" fill="#ec9ca1"/>
<rect x="546.55" y="284.37" width="8.85" height="25.23" fill="#ec9ca1"/>
<rect x="555.1" y="284.37" width="8.85" height="25.23" fill="#f6e5e8"/>
<rect x="563.65" y="284.37" width="8.85" height="25.23" fill="#f6e5e8"/>
<rect x="25.5" y="60.5" width="546.7" height="248.8" fill="none" stroke="#444" stroke-width="1"/>
<line x1="29.27" x2="29.27" y1="309.3" y2="312.3" stroke="#333" stroke-width="0.9"/>
<text class="lb" transform="translate(31.38,317) rotate(-90)" text-anchor="end" font-size="9.2" fill="#1e1e1e" textLength="29.67" lengthAdjust="spacingAndGlyphs">COX5A</text>
<line x1="37.83" x2="37.83" y1="309.3" y2="312.3" stroke="#333" stroke-width="0.9"/>
<text class="lb" transform="translate(39.93,317) rotate(-90)" text-anchor="end" font-size="9.2" fill="#1e1e1e" textLength="40.64" lengthAdjust="spacingAndGlyphs">NDUFA13</text>
<line x1="46.38" x2="46.38" y1="309.3" y2="312.3" stroke="#333" stroke-width="0.9"/>
<text class="lb" transform="translate(48.48,317) rotate(-90)" text-anchor="end" font-size="9.2" fill="#1e1e1e" textLength="35.24" lengthAdjust="spacingAndGlyphs">NDUFA2</text>
<line x1="54.93" x2="54.93" y1="309.3" y2="312.3" stroke="#333" stroke-width="0.9"/>
<text class="lb" transform="translate(57.03,317) rotate(-90)" text-anchor="end" font-size="9.2" fill="#1e1e1e" textLength="29.69" lengthAdjust="spacingAndGlyphs">COX7B</text>
<line x1="63.48" x2="63.48" y1="309.3" y2="312.3" stroke="#333" stroke-width="0.9"/>
<text class="lb" transform="translate(65.58,317) rotate(-90)" text-anchor="end" font-size="9.2" fill="#1e1e1e" textLength="35.08" lengthAdjust="spacingAndGlyphs">COX6A1</text>
<line x1="72.03" x2="72.03" y1="309.3" y2="312.3" stroke="#333" stroke-width="0.9"/>
<text class="lb" transform="translate(74.12,317) rotate(-90)" text-anchor="end" font-size="9.2" fill="#1e1e1e" textLength="35.36" lengthAdjust="spacingAndGlyphs">NDUFC1</text>
<line x1="80.58" x2="80.58" y1="309.3" y2="312.3" stroke="#333" stroke-width="0.9"/>
<text class="lb" transform="translate(82.67,317) rotate(-90)" text-anchor="end" font-size="9.2" fill="#1e1e1e" textLength="31.14" lengthAdjust="spacingAndGlyphs">UQCRH</text>
<line x1="89.12" x2="89.12" y1="309.3" y2="312.3" stroke="#333" stroke-width="0.9"/>
<text class="lb" transform="translate(91.22,317) rotate(-90)" text-anchor="end" font-size="9.2" fill="#1e1e1e" textLength="30.58" lengthAdjust="spacingAndGlyphs">UQCRB</text>
<line x1="97.68" x2="97.68" y1="309.3" y2="312.3" stroke="#333" stroke-width="0.9"/>
<text class="lb" transform="translate(99.78,317) rotate(-90)" text-anchor="end" font-size="9.2" fill="#1e1e1e" textLength="35.24" lengthAdjust="spacingAndGlyphs">NDUFA7</text>
<line x1="106.23" x2="106.23" y1="309.3" y2="312.3" stroke="#333" stroke-width="0.9"/>
<text class="lb" transform="translate(108.33,317) rotate(-90)" text-anchor="end" font-size="9.2" fill="#1e1e1e" textLength="35.25" lengthAdjust="spacingAndGlyphs">NDUFB9</text>
<line x1="114.78" x2="114.78" y1="309.3" y2="312.3" stroke="#333" stroke-width="0.9"/>
<text class="lb" transform="translate(116.88,317) rotate(-90)" text-anchor="end" font-size="9.2" fill="#1e1e1e" textLength="35.25" lengthAdjust="spacingAndGlyphs">NDUFB8</text>
<line x1="123.33" x2="123.33" y1="309.3" y2="312.3" stroke="#333" stroke-width="0.9"/>
<text class="lb" transform="translate(125.42,317) rotate(-90)" text-anchor="end" font-size="9.2" fill="#1e1e1e" textLength="31.77" lengthAdjust="spacingAndGlyphs">COX4I1</text>
<line x1="131.88" x2="131.88" y1="309.3" y2="312.3" stroke="#333" stroke-width="0.9"/>
<text class="lb" transform="translate(133.97,317) rotate(-90)" text-anchor="end" font-size="9.2" fill="#1e1e1e" textLength="35.24" lengthAdjust="spacingAndGlyphs">NDUFV3</text>
<line x1="140.43" x2="140.43" y1="309.3" y2="312.3" stroke="#333" stroke-width="0.9"/>
<text class="lb" transform="translate(142.53,317) rotate(-90)" text-anchor="end" font-size="9.2" fill="#1e1e1e" textLength="29.69" lengthAdjust="spacingAndGlyphs">COX5B</text>
<line x1="148.98" x2="148.98" y1="309.3" y2="312.3" stroke="#333" stroke-width="0.9"/>
<text class="lb" transform="translate(151.08,317) rotate(-90)" text-anchor="end" font-size="9.2" fill="#1e1e1e" textLength="29.79" lengthAdjust="spacingAndGlyphs">COX7C</text>
<line x1="157.53" x2="157.53" y1="309.3" y2="312.3" stroke="#333" stroke-width="0.9"/>
<text class="lb" transform="translate(159.62,317) rotate(-90)" text-anchor="end" font-size="9.2" fill="#1e1e1e" textLength="35.1" lengthAdjust="spacingAndGlyphs">COX6B1</text>
<line x1="166.08" x2="166.08" y1="309.3" y2="312.3" stroke="#333" stroke-width="0.9"/>
<text class="lb" transform="translate(168.18,317) rotate(-90)" text-anchor="end" font-size="9.2" fill="#1e1e1e" textLength="29.67" lengthAdjust="spacingAndGlyphs">COX8A</text>
<line x1="174.62" x2="174.62" y1="309.3" y2="312.3" stroke="#333" stroke-width="0.9"/>
<text class="lb" transform="translate(176.72,317) rotate(-90)" text-anchor="end" font-size="9.2" fill="#1e1e1e" textLength="31.44" lengthAdjust="spacingAndGlyphs">UQCRQ</text>
<line x1="183.18" x2="183.18" y1="309.3" y2="312.3" stroke="#333" stroke-width="0.9"/>
<text class="lb" transform="translate(185.28,317) rotate(-90)" text-anchor="end" font-size="9.2" fill="#1e1e1e" textLength="35.08" lengthAdjust="spacingAndGlyphs">COX7A2</text>
<line x1="191.73" x2="191.73" y1="309.3" y2="312.3" stroke="#333" stroke-width="0.9"/>
<text class="lb" transform="translate(193.83,317) rotate(-90)" text-anchor="end" font-size="9.2" fill="#1e1e1e" textLength="29.79" lengthAdjust="spacingAndGlyphs">COX6C</text>
<line x1="200.28" x2="200.28" y1="309.3" y2="312.3" stroke="#333" stroke-width="0.9"/>
<text class="lb" transform="translate(202.38,317) rotate(-90)" text-anchor="end" font-size="9.2" fill="#1e1e1e" textLength="35.24" lengthAdjust="spacingAndGlyphs">NDUFA4</text>
<line x1="208.83" x2="208.83" y1="309.3" y2="312.3" stroke="#333" stroke-width="0.9"/>
<text class="lb" transform="translate(210.93,317) rotate(-90)" text-anchor="end" font-size="9.2" fill="#1e1e1e" textLength="40.66" lengthAdjust="spacingAndGlyphs">NDUFB11</text>
<line x1="217.38" x2="217.38" y1="309.3" y2="312.3" stroke="#333" stroke-width="0.9"/>
<text class="lb" transform="translate(219.48,317) rotate(-90)" text-anchor="end" font-size="9.2" fill="#1e1e1e" textLength="35.36" lengthAdjust="spacingAndGlyphs">NDUFC2</text>
<line x1="225.93" x2="225.93" y1="309.3" y2="312.3" stroke="#333" stroke-width="0.9"/>
<text class="lb" transform="translate(228.03,317) rotate(-90)" text-anchor="end" font-size="9.2" fill="#1e1e1e" textLength="35.24" lengthAdjust="spacingAndGlyphs">NDUFA3</text>
<line x1="234.48" x2="234.48" y1="309.3" y2="312.3" stroke="#333" stroke-width="0.9"/>
<text class="lb" transform="translate(236.58,317) rotate(-90)" text-anchor="end" font-size="9.2" fill="#1e1e1e" textLength="34.82" lengthAdjust="spacingAndGlyphs">NDUFS7</text>
<line x1="243.03" x2="243.03" y1="309.3" y2="312.3" stroke="#333" stroke-width="0.9"/>
<text class="lb" transform="translate(245.12,317) rotate(-90)" text-anchor="end" font-size="9.2" fill="#1e1e1e" textLength="35.25" lengthAdjust="spacingAndGlyphs">NDUFB4</text>
<line x1="251.58" x2="251.58" y1="309.3" y2="312.3" stroke="#333" stroke-width="0.9"/>
<text class="lb" transform="translate(253.68,317) rotate(-90)" text-anchor="end" font-size="9.2" fill="#1e1e1e" textLength="40.45" lengthAdjust="spacingAndGlyphs">UQCRFS1</text>
<line x1="260.12" x2="260.12" y1="309.3" y2="312.3" stroke="#333" stroke-width="0.9"/>
<text class="lb" transform="translate(262.23,317) rotate(-90)" text-anchor="end" font-size="9.2" fill="#1e1e1e" textLength="34.82" lengthAdjust="spacingAndGlyphs">NDUFS5</text>
<line x1="268.68" x2="268.68" y1="309.3" y2="312.3" stroke="#333" stroke-width="0.9"/>
<text class="lb" transform="translate(270.78,317) rotate(-90)" text-anchor="end" font-size="9.2" fill="#1e1e1e" textLength="35.57" lengthAdjust="spacingAndGlyphs">UQCR10</text>
<line x1="277.23" x2="277.23" y1="309.3" y2="312.3" stroke="#333" stroke-width="0.9"/>
<text class="lb" transform="translate(279.33,317) rotate(-90)" text-anchor="end" font-size="9.2" fill="#1e1e1e" textLength="40.64" lengthAdjust="spacingAndGlyphs">NDUFA11</text>
<line x1="285.78" x2="285.78" y1="309.3" y2="312.3" stroke="#333" stroke-width="0.9"/>
<text class="lb" transform="translate(287.88,317) rotate(-90)" text-anchor="end" font-size="9.2" fill="#1e1e1e" textLength="35.24" lengthAdjust="spacingAndGlyphs">NDUFA1</text>
<line x1="294.33" x2="294.33" y1="309.3" y2="312.3" stroke="#333" stroke-width="0.9"/>
<text class="lb" transform="translate(296.43,317) rotate(-90)" text-anchor="end" font-size="9.2" fill="#1e1e1e" textLength="35.24" lengthAdjust="spacingAndGlyphs">NDUFA6</text>
<line x1="302.88" x2="302.88" y1="309.3" y2="312.3" stroke="#333" stroke-width="0.9"/>
<text class="lb" transform="translate(304.98,317) rotate(-90)" text-anchor="end" font-size="9.2" fill="#1e1e1e" textLength="35.24" lengthAdjust="spacingAndGlyphs">NDUFA5</text>
<line x1="311.43" x2="311.43" y1="309.3" y2="312.3" stroke="#333" stroke-width="0.9"/>
<text class="lb" transform="translate(313.53,317) rotate(-90)" text-anchor="end" font-size="9.2" fill="#1e1e1e" textLength="35.57" lengthAdjust="spacingAndGlyphs">UQCR11</text>
<line x1="319.98" x2="319.98" y1="309.3" y2="312.3" stroke="#333" stroke-width="0.9"/>
<text class="lb" transform="translate(322.08,317) rotate(-90)" text-anchor="end" font-size="9.2" fill="#1e1e1e" textLength="35.25" lengthAdjust="spacingAndGlyphs">NDUFB5</text>
<line x1="328.53" x2="328.53" y1="309.3" y2="312.3" stroke="#333" stroke-width="0.9"/>
<text class="lb" transform="translate(330.63,317) rotate(-90)" text-anchor="end" font-size="9.2" fill="#1e1e1e" textLength="40.66" lengthAdjust="spacingAndGlyphs">NDUFB10</text>
<line x1="337.08" x2="337.08" y1="309.3" y2="312.3" stroke="#333" stroke-width="0.9"/>
<text class="lb" transform="translate(339.18,317) rotate(-90)" text-anchor="end" font-size="9.2" fill="#1e1e1e" textLength="35.25" lengthAdjust="spacingAndGlyphs">NDUFB7</text>
<line x1="345.62" x2="345.62" y1="309.3" y2="312.3" stroke="#333" stroke-width="0.9"/>
<text class="lb" transform="translate(347.73,317) rotate(-90)" text-anchor="end" font-size="9.2" fill="#1e1e1e" textLength="41.07" lengthAdjust="spacingAndGlyphs">NDUFAB1</text>
<line x1="354.18" x2="354.18" y1="309.3" y2="312.3" stroke="#333" stroke-width="0.9"/>
<text class="lb" transform="translate(356.28,317) rotate(-90)" text-anchor="end" font-size="9.2" fill="#1e1e1e" textLength="35.24" lengthAdjust="spacingAndGlyphs">NDUFV2</text>
<line x1="362.73" x2="362.73" y1="309.3" y2="312.3" stroke="#333" stroke-width="0.9"/>
<text class="lb" transform="translate(364.83,317) rotate(-90)" text-anchor="end" font-size="9.2" fill="#1e1e1e" textLength="40.64" lengthAdjust="spacingAndGlyphs">NDUFA12</text>
<line x1="371.28" x2="371.28" y1="309.3" y2="312.3" stroke="#333" stroke-width="0.9"/>
<text class="lb" transform="translate(373.38,317) rotate(-90)" text-anchor="end" font-size="9.2" fill="#1e1e1e" textLength="40.64" lengthAdjust="spacingAndGlyphs">NDUFA10</text>
<line x1="379.83" x2="379.83" y1="309.3" y2="312.3" stroke="#333" stroke-width="0.9"/>
<text class="lb" transform="translate(381.93,317) rotate(-90)" text-anchor="end" font-size="9.2" fill="#1e1e1e" textLength="22.47" lengthAdjust="spacingAndGlyphs">CYC1</text>
<line x1="388.38" x2="388.38" y1="309.3" y2="312.3" stroke="#333" stroke-width="0.9"/>
<text class="lb" transform="translate(390.48,317) rotate(-90)" text-anchor="end" font-size="9.2" fill="#1e1e1e" textLength="35.25" lengthAdjust="spacingAndGlyphs">NDUFB2</text>
<line x1="396.93" x2="396.93" y1="309.3" y2="312.3" stroke="#333" stroke-width="0.9"/>
<text class="lb" transform="translate(399.03,317) rotate(-90)" text-anchor="end" font-size="9.2" fill="#1e1e1e" textLength="34.82" lengthAdjust="spacingAndGlyphs">NDUFS2</text>
<line x1="405.48" x2="405.48" y1="309.3" y2="312.3" stroke="#333" stroke-width="0.9"/>
<text class="lb" transform="translate(407.58,317) rotate(-90)" text-anchor="end" font-size="9.2" fill="#1e1e1e" textLength="35.24" lengthAdjust="spacingAndGlyphs">NDUFA8</text>
<line x1="414.03" x2="414.03" y1="309.3" y2="312.3" stroke="#333" stroke-width="0.9"/>
<text class="lb" transform="translate(416.13,317) rotate(-90)" text-anchor="end" font-size="9.2" fill="#1e1e1e" textLength="34.82" lengthAdjust="spacingAndGlyphs">NDUFS4</text>
<line x1="422.58" x2="422.58" y1="309.3" y2="312.3" stroke="#333" stroke-width="0.9"/>
<text class="lb" transform="translate(424.68,317) rotate(-90)" text-anchor="end" font-size="9.2" fill="#1e1e1e" textLength="36.1" lengthAdjust="spacingAndGlyphs">UQCRC1</text>
<line x1="431.13" x2="431.13" y1="309.3" y2="312.3" stroke="#333" stroke-width="0.9"/>
<text class="lb" transform="translate(433.23,317) rotate(-90)" text-anchor="end" font-size="9.2" fill="#1e1e1e" textLength="35.25" lengthAdjust="spacingAndGlyphs">NDUFB6</text>
<line x1="439.68" x2="439.68" y1="309.3" y2="312.3" stroke="#333" stroke-width="0.9"/>
<text class="lb" transform="translate(441.78,317) rotate(-90)" text-anchor="end" font-size="9.2" fill="#1e1e1e" textLength="35.24" lengthAdjust="spacingAndGlyphs">NDUFV1</text>
<line x1="448.23" x2="448.23" y1="309.3" y2="312.3" stroke="#333" stroke-width="0.9"/>
<text class="lb" transform="translate(450.33,317) rotate(-90)" text-anchor="end" font-size="9.2" fill="#1e1e1e" textLength="34.82" lengthAdjust="spacingAndGlyphs">NDUFS6</text>
<line x1="456.78" x2="456.78" y1="309.3" y2="312.3" stroke="#333" stroke-width="0.9"/>
<text class="lb" transform="translate(458.88,317) rotate(-90)" text-anchor="end" font-size="9.2" fill="#1e1e1e" textLength="34.82" lengthAdjust="spacingAndGlyphs">NDUFS3</text>
<line x1="465.33" x2="465.33" y1="309.3" y2="312.3" stroke="#333" stroke-width="0.9"/>
<text class="lb" transform="translate(467.43,317) rotate(-90)" text-anchor="end" font-size="9.2" fill="#1e1e1e" textLength="31.77" lengthAdjust="spacingAndGlyphs">COX4I2</text>
<line x1="473.88" x2="473.88" y1="309.3" y2="312.3" stroke="#333" stroke-width="0.9"/>
<text class="lb" transform="translate(475.98,317) rotate(-90)" text-anchor="end" font-size="9.2" fill="#1e1e1e" textLength="24.27" lengthAdjust="spacingAndGlyphs">SDHC</text>
<line x1="482.43" x2="482.43" y1="309.3" y2="312.3" stroke="#333" stroke-width="0.9"/>
<text class="lb" transform="translate(484.53,317) rotate(-90)" text-anchor="end" font-size="9.2" fill="#1e1e1e" textLength="34.82" lengthAdjust="spacingAndGlyphs">NDUFS1</text>
<line x1="490.98" x2="490.98" y1="309.3" y2="312.3" stroke="#333" stroke-width="0.9"/>
<text class="lb" transform="translate(493.08,317) rotate(-90)" text-anchor="end" font-size="9.2" fill="#1e1e1e" textLength="35.1" lengthAdjust="spacingAndGlyphs">COX6B2</text>
<line x1="499.53" x2="499.53" y1="309.3" y2="312.3" stroke="#333" stroke-width="0.9"/>
<text class="lb" transform="translate(501.63,317) rotate(-90)" text-anchor="end" font-size="9.2" fill="#1e1e1e" textLength="35.24" lengthAdjust="spacingAndGlyphs">NDUFA9</text>
<line x1="508.08" x2="508.08" y1="309.3" y2="312.3" stroke="#333" stroke-width="0.9"/>
<text class="lb" transform="translate(510.18,317) rotate(-90)" text-anchor="end" font-size="9.2" fill="#1e1e1e" textLength="35.08" lengthAdjust="spacingAndGlyphs">COX7A1</text>
<line x1="516.62" x2="516.62" y1="309.3" y2="312.3" stroke="#333" stroke-width="0.9"/>
<text class="lb" transform="translate(518.73,317) rotate(-90)" text-anchor="end" font-size="9.2" fill="#1e1e1e" textLength="34.82" lengthAdjust="spacingAndGlyphs">NDUFS8</text>
<line x1="525.18" x2="525.18" y1="309.3" y2="312.3" stroke="#333" stroke-width="0.9"/>
<text class="lb" transform="translate(527.28,317) rotate(-90)" text-anchor="end" font-size="9.2" fill="#1e1e1e" textLength="24.88" lengthAdjust="spacingAndGlyphs">SDHD</text>
<line x1="533.73" x2="533.73" y1="309.3" y2="312.3" stroke="#333" stroke-width="0.9"/>
<text class="lb" transform="translate(535.83,317) rotate(-90)" text-anchor="end" font-size="9.2" fill="#1e1e1e" textLength="35.25" lengthAdjust="spacingAndGlyphs">NDUFB3</text>
<line x1="542.28" x2="542.28" y1="309.3" y2="312.3" stroke="#333" stroke-width="0.9"/>
<text class="lb" transform="translate(544.38,317) rotate(-90)" text-anchor="end" font-size="9.2" fill="#1e1e1e" textLength="24.16" lengthAdjust="spacingAndGlyphs">SDHB</text>
<line x1="550.83" x2="550.83" y1="309.3" y2="312.3" stroke="#333" stroke-width="0.9"/>
<text class="lb" transform="translate(552.93,317) rotate(-90)" text-anchor="end" font-size="9.2" fill="#1e1e1e" textLength="35.08" lengthAdjust="spacingAndGlyphs">COX6A2</text>
<line x1="559.38" x2="559.38" y1="309.3" y2="312.3" stroke="#333" stroke-width="0.9"/>
<text class="lb" transform="translate(561.48,317) rotate(-90)" text-anchor="end" font-size="9.2" fill="#1e1e1e" textLength="24.15" lengthAdjust="spacingAndGlyphs">SDHA</text>
<line x1="567.93" x2="567.93" y1="309.3" y2="312.3" stroke="#333" stroke-width="0.9"/>
<text class="lb" transform="translate(570.03,317) rotate(-90)" text-anchor="end" font-size="9.2" fill="#1e1e1e" textLength="36.1" lengthAdjust="spacingAndGlyphs">UQCRC2</text>
<line x1="572.2" x2="575" y1="72.47" y2="72.47" stroke="#333" stroke-width="0.9"/>
<text class="lb" x="576.6" y="77.27" font-size="9.9" fill="#1e1e1e" textLength="91.31" lengthAdjust="spacingAndGlyphs">RBP_Ifnb_Control_wilx</text>
<line x1="572.2" x2="575" y1="97.39" y2="97.39" stroke="#333" stroke-width="0.9"/>
<text class="lb" x="576.6" y="102.19" font-size="9.9" fill="#1e1e1e" textLength="105.91" lengthAdjust="spacingAndGlyphs">ScgnBP_Ifnb_Control_wilx</text>
<line x1="572.2" x2="575" y1="122.33" y2="122.33" stroke="#333" stroke-width="0.9"/>
<text class="lb" x="576.6" y="127.12" font-size="9.9" fill="#1e1e1e" textLength="87.8" lengthAdjust="spacingAndGlyphs">MC_Ifnb_Control_wilx</text>
<line x1="572.2" x2="575" y1="147.25" y2="147.25" stroke="#333" stroke-width="0.9"/>
<text class="lb" x="576.6" y="152.06" font-size="9.9" fill="#1e1e1e" textLength="98.29" lengthAdjust="spacingAndGlyphs">ONBP_Ifnb_Control_wilx</text>
<line x1="572.2" x2="575" y1="172.19" y2="172.19" stroke="#333" stroke-width="0.9"/>
<text class="lb" x="576.6" y="176.99" font-size="9.9" fill="#1e1e1e" textLength="101.63" lengthAdjust="spacingAndGlyphs">OFFBP_Ifnb_Control_wilx</text>
<line x1="572.2" x2="575" y1="197.12" y2="197.12" stroke="#333" stroke-width="0.9"/>
<text class="lb" x="576.6" y="201.92" font-size="9.9" fill="#1e1e1e" textLength="86.32" lengthAdjust="spacingAndGlyphs">AC_Ifnb_Control_wilx</text>
<line x1="572.2" x2="575" y1="222.04" y2="222.04" stroke="#333" stroke-width="0.9"/>
<text class="lb" x="576.6" y="226.84" font-size="9.9" fill="#1e1e1e" textLength="86.34" lengthAdjust="spacingAndGlyphs">BC_Ifnb_Control_wilx</text>
<line x1="572.2" x2="575" y1="246.97" y2="246.97" stroke="#333" stroke-width="0.9"/>
<text class="lb" x="576.6" y="251.78" font-size="9.9" fill="#1e1e1e" textLength="96.09" lengthAdjust="spacingAndGlyphs">Cone_Ifnb_Control_wilx</text>
<line x1="572.2" x2="575" y1="271.9" y2="271.9" stroke="#333" stroke-width="0.9"/>
<text class="lb" x="576.6" y="276.7" font-size="9.9" fill="#1e1e1e" textLength="90.96" lengthAdjust="spacingAndGlyphs">Rod_Ifnb_Control_wilx</text>
<line x1="572.2" x2="575" y1="296.84" y2="296.84" stroke="#333" stroke-width="0.9"/>
<text class="lb" x="576.6" y="301.64" font-size="9.9" fill="#1e1e1e" textLength="88.88" lengthAdjust="spacingAndGlyphs">Mic_Ifnb_Control_wilx</text>
<rect x="32" y="576.3" width="526.9" height="12.2" fill="url(#cbg)" stroke="#444" stroke-width="0.9"/>
<line x1="47.5" x2="47.5" y1="588.5" y2="591.9" stroke="#333" stroke-width="0.9"/>
<text class="lb" x="47.5" y="602.3" text-anchor="middle" font-size="11.6" fill="#1e1e1e" textLength="21.31" lengthAdjust="spacingAndGlyphs">−15</text>
<line x1="130.28" x2="130.28" y1="588.5" y2="591.9" stroke="#333" stroke-width="0.9"/>
<text class="lb" x="130.28" y="602.3" text-anchor="middle" font-size="11.6" fill="#1e1e1e" textLength="21.31" lengthAdjust="spacingAndGlyphs">−10</text>
<line x1="213.06" x2="213.06" y1="588.5" y2="591.9" stroke="#333" stroke-width="0.9"/>
<text class="lb" x="213.06" y="602.3" text-anchor="middle" font-size="11.6" fill="#1e1e1e" textLength="14.89" lengthAdjust="spacingAndGlyphs">−5</text>
<line x1="295.84" x2="295.84" y1="588.5" y2="591.9" stroke="#333" stroke-width="0.9"/>
<text class="lb" x="295.84" y="602.3" text-anchor="middle" font-size="11.6" fill="#1e1e1e" textLength="6.43" lengthAdjust="spacingAndGlyphs">0</text>
<line x1="378.62" x2="378.62" y1="588.5" y2="591.9" stroke="#333" stroke-width="0.9"/>
<text class="lb" x="378.62" y="602.3" text-anchor="middle" font-size="11.6" fill="#1e1e1e" textLength="6.43" lengthAdjust="spacingAndGlyphs">5</text>
<line x1="461.4" x2="461.4" y1="588.5" y2="591.9" stroke="#333" stroke-width="0.9"/>
<text class="lb" x="461.4" y="602.3" text-anchor="middle" font-size="11.6" fill="#1e1e1e" textLength="12.85" lengthAdjust="spacingAndGlyphs">10</text>
<line x1="544.18" x2="544.18" y1="588.5" y2="591.9" stroke="#333" stroke-width="0.9"/>
<text class="lb" x="544.18" y="602.3" text-anchor="middle" font-size="11.6" fill="#1e1e1e" textLength="12.85" lengthAdjust="spacingAndGlyphs">15</text>
<rect x="32" y="613.3" width="23.2" height="24.7" fill="#fcf4f6"/>
<rect x="54.9" y="613.3" width="23.2" height="24.7" fill="#fefcfd"/>
<rect x="77.79" y="613.3" width="23.2" height="24.7" fill="#fefcfd"/>
<rect x="100.69" y="613.3" width="23.2" height="24.7" fill="#e6e6f2"/>
<rect x="123.58" y="613.3" width="23.2" height="24.7" fill="#ffffff"/>
<rect x="146.48" y="613.3" width="23.2" height="24.7" fill="#ffffff"/>
<rect x="169.37" y="613.3" width="23.2" height="24.7" fill="#f3dce0"/>
<rect x="192.27" y="613.3" width="23.2" height="24.7" fill="#f9edee"/>
<rect x="215.17" y="613.3" width="23.2" height="24.7" fill="#fdfafa"/>
<rect x="238.06" y="613.3" width="23.2" height="24.7" fill="#f1f1f8"/>
<rect x="260.96" y="613.3" width="23.2" height="24.7" fill="#ffffff"/>
<rect x="283.85" y="613.3" width="23.2" height="24.7" fill="#ffffff"/>
<rect x="306.75" y="613.3" width="23.2" height="24.7" fill="#ffffff"/>
<rect x="329.64" y="613.3" width="23.2" height="24.7" fill="#ffffff"/>
<rect x="352.54" y="613.3" width="23.2" height="24.7" fill="#f9edee"/>
<rect x="375.43" y="613.3" width="23.2" height="24.7" fill="#f6e3e6"/>
<rect x="398.33" y="613.3" width="23.2" height="24.7" fill="#f7e6e9"/>
<rect x="421.23" y="613.3" width="23.2" height="24.7" fill="#f3dce0"/>
<rect x="444.12" y="613.3" width="23.2" height="24.7" fill="#fefcfd"/>
<rect x="467.02" y="613.3" width="23.2" height="24.7" fill="#faeff1"/>
<rect x="489.91" y="613.3" width="23.2" height="24.7" fill="#f6f6fa"/>
<rect x="512.81" y="613.3" width="23.2" height="24.7" fill="#f1f1f8"/>
<rect x="535.7" y="613.3" width="23.2" height="24.7" fill="#fcf4f6"/>
<rect x="32" y="637.7" width="23.2" height="24.7" fill="#ffffff"/>
<rect x="54.9" y="637.7" width="23.2" height="24.7" fill="#fefcfd"/>
<rect x="77.79" y="637.7" width="23.2" height="24.7" fill="#fefcfd"/>
<rect x="100.69" y="637.7" width="23.2" height="24.7" fill="#f9edee"/>
<rect x="123.58" y="637.7" width="23.2" height="24.7" fill="#ffffff"/>
<rect x="146.48" y="637.7" width="23.2" height="24.7" fill="#ededf5"/>
<rect x="169.37" y="637.7" width="23.2" height="24.7" fill="#ffffff"/>
<rect x="192.27" y="637.7" width="23.2" height="24.7" fill="#ffffff"/>
<rect x="215.17" y="637.7" width="23.2" height="24.7" fill="#ffffff"/>
<rect x="238.06" y="637.7" width="23.2" height="24.7" fill="#ffffff"/>
<rect x="260.96" y="637.7" width="23.2" height="24.7" fill="#ffffff"/>
<rect x="283.85" y="637.7" width="23.2" height="24.7" fill="#ffffff"/>
<rect x="306.75" y="637.7" width="23.2" height="24.7" fill="#f9edee"/>
<rect x="329.64" y="637.7" width="23.2" height="24.7" fill="#efc1c6"/>
<rect x="352.54" y="637.7" width="23.2" height="24.7" fill="#f5e1e4"/>
<rect x="375.43" y="637.7" width="23.2" height="24.7" fill="#fefcfd"/>
<rect x="398.33" y="637.7" width="23.2" height="24.7" fill="#fefcfd"/>
<rect x="421.23" y="637.7" width="23.2" height="24.7" fill="#ffffff"/>
<rect x="444.12" y="637.7" width="23.2" height="24.7" fill="#f1cdd2"/>
<rect x="467.02" y="637.7" width="23.2" height="24.7" fill="#fefcfd"/>
<rect x="489.91" y="637.7" width="23.2" height="24.7" fill="#ffffff"/>
<rect x="512.81" y="637.7" width="23.2" height="24.7" fill="#ffffff"/>
<rect x="535.7" y="637.7" width="23.2" height="24.7" fill="#f1f1f8"/>
<rect x="32" y="662.1" width="23.2" height="24.7" fill="#5a63af"/>
<rect x="54.9" y="662.1" width="23.2" height="24.7" fill="#f7e8ea"/>
<rect x="77.79" y="662.1" width="23.2" height="24.7" fill="#6469b3"/>
<rect x="100.69" y="662.1" width="23.2" height="24.7" fill="#fafafd"/>
<rect x="123.58" y="662.1" width="23.2" height="24.7" fill="#ffffff"/>
<rect x="146.48" y="662.1" width="23.2" height="24.7" fill="#f6f6fa"/>
<rect x="169.37" y="662.1" width="23.2" height="24.7" fill="#ffffff"/>
<rect x="192.27" y="662.1" width="23.2" height="24.7" fill="#ffffff"/>
<rect x="215.17" y="662.1" width="23.2" height="24.7" fill="#fafafd"/>
<rect x="238.06" y="662.1" width="23.2" height="24.7" fill="#ffffff"/>
<rect x="260.96" y="662.1" width="23.2" height="24.7" fill="#ffffff"/>
<rect x="283.85" y="662.1" width="23.2" height="24.7" fill="#fafafd"/>
<rect x="306.75" y="662.1" width="23.2" height="24.7" fill="#efb7bc"/>
<rect x="329.64" y="662.1" width="23.2" height="24.7" fill="#e7575b"/>
<rect x="352.54" y="662.1" width="23.2" height="24.7" fill="#e8797e"/>
<rect x="375.43" y="662.1" width="23.2" height="24.7" fill="#ea8a8f"/>
<rect x="398.33" y="662.1" width="23.2" height="24.7" fill="#fdfafa"/>
<rect x="421.23" y="662.1" width="23.2" height="24.7" fill="#fcf4f6"/>
<rect x="444.12" y="662.1" width="23.2" height="24.7" fill="#eb979c"/>
<rect x="467.02" y="662.1" width="23.2" height="24.7" fill="#efc1c6"/>
<rect x="489.91" y="662.1" width="23.2" height="24.7" fill="#f2d7db"/>
<rect x="512.81" y="662.1" width="23.2" height="24.7" fill="#fdfafa"/>
<rect x="535.7" y="662.1" width="23.2" height="24.7" fill="#ea8a8f"/>
<rect x="32" y="686.5" width="23.2" height="24.7" fill="#ababd8"/>
<rect x="54.9" y="686.5" width="23.2" height="24.7" fill="#fafafd"/>
<rect x="77.79" y="686.5" width="23.2" height="24.7" fill="#ffffff"/>
<rect x="100.69" y="686.5" width="23.2" height="24.7" fill="#d2d0e8"/>
<rect x="123.58" y="686.5" width="23.2" height="24.7" fill="#f7e8ea"/>
<rect x="146.48" y="686.5" width="23.2" height="24.7" fill="#fdfafa"/>
<rect x="169.37" y="686.5" width="23.2" height="24.7" fill="#f7e6e9"/>
<rect x="192.27" y="686.5" width="23.2" height="24.7" fill="#ffffff"/>
<rect x="215.17" y="686.5" width="23.2" height="24.7" fill="#ffffff"/>
<rect x="238.06" y="686.5" width="23.2" height="24.7" fill="#ffffff"/>
<rect x="260.96" y="686.5" width="23.2" height="24.7" fill="#ffffff"/>
<rect x="283.85" y="686.5" width="23.2" height="24.7" fill="#ffffff"/>
<rect x="306.75" y="686.5" width="23.2" height="24.7" fill="#7274ba"/>
<rect x="329.64" y="686.5" width="23.2" height="24.7" fill="#9d9dd1"/>
<rect x="352.54" y="686.5" width="23.2" height="24.7" fill="#7072b8"/>
<rect x="375.43" y="686.5" width="23.2" height="24.7" fill="#a0a0d3"/>
<rect x="398.33" y="686.5" width="23.2" height="24.7" fill="#e4e3f1"/>
<rect x="421.23" y="686.5" width="23.2" height="24.7" fill="#e6e6f2"/>
<rect x="444.12" y="686.5" width="23.2" height="24.7" fill="#d2d0e8"/>
<rect x="467.02" y="686.5" width="23.2" height="24.7" fill="#dadaec"/>
<rect x="489.91" y="686.5" width="23.2" height="24.7" fill="#9191cb"/>
<rect x="512.81" y="686.5" width="23.2" height="24.7" fill="#ababd8"/>
<rect x="535.7" y="686.5" width="23.2" height="24.7" fill="#5862ae"/>
<rect x="32" y="710.9" width="23.2" height="24.7" fill="#fdfafa"/>
<rect x="54.9" y="710.9" width="23.2" height="24.7" fill="#fafafd"/>
<rect x="77.79" y="710.9" width="23.2" height="24.7" fill="#fafafd"/>
<rect x="100.69" y="710.9" width="23.2" height="24.7" fill="#d2d0e8"/>
<rect x="123.58" y="710.9" width="23.2" height="24.7" fill="#ffffff"/>
<rect x="146.48" y="710.9" width="23.2" height="24.7" fill="#e4e3f1"/>
<rect x="169.37" y="710.9" width="23.2" height="24.7" fill="#f7e6e9"/>
<rect x="192.27" y="710.9" width="23.2" height="24.7" fill="#fdfafa"/>
<rect x="215.17" y="710.9" width="23.2" height="24.7" fill="#f9edee"/>
<rect x="238.06" y="710.9" width="23.2" height="24.7" fill="#fdfafa"/>
<rect x="260.96" y="710.9" width="23.2" height="24.7" fill="#fdfdfe"/>
<rect x="283.85" y="710.9" width="23.2" height="24.7" fill="#ffffff"/>
<rect x="306.75" y="710.9" width="23.2" height="24.7" fill="#9191cb"/>
<rect x="329.64" y="710.9" width="23.2" height="24.7" fill="#8e8ec9"/>
<rect x="352.54" y="710.9" width="23.2" height="24.7" fill="#6066b2"/>
<rect x="375.43" y="710.9" width="23.2" height="24.7" fill="#9d9dd1"/>
<rect x="398.33" y="710.9" width="23.2" height="24.7" fill="#ffffff"/>
<rect x="421.23" y="710.9" width="23.2" height="24.7" fill="#cdcbe6"/>
<rect x="444.12" y="710.9" width="23.2" height="24.7" fill="#a0a0d3"/>
<rect x="467.02" y="710.9" width="23.2" height="24.7" fill="#7d7ebf"/>
<rect x="489.91" y="710.9" width="23.2" height="24.7" fill="#7274ba"/>
<rect x="512.81" y="710.9" width="23.2" height="24.7" fill="#5c64b0"/>
<rect x="535.7" y="710.9" width="23.2" height="24.7" fill="#7072b8"/>
<rect x="32" y="735.3" width="23.2" height="24.7" fill="#dfdeef"/>
<rect x="54.9" y="735.3" width="23.2" height="24.7" fill="#e4e3f1"/>
<rect x="77.79" y="735.3" width="23.2" height="24.7" fill="#ffffff"/>
<rect x="100.69" y="735.3" width="23.2" height="24.7" fill="#f6e5e8"/>
<rect x="123.58" y="735.3" width="23.2" height="24.7" fill="#fefcfd"/>
<rect x="146.48" y="735.3" width="23.2" height="24.7" fill="#e4e3f1"/>
<rect x="169.37" y="735.3" width="23.2" height="24.7" fill="#eaeaf4"/>
<rect x="192.27" y="735.3" width="23.2" height="24.7" fill="#f9edee"/>
<rect x="215.17" y="735.3" width="23.2" height="24.7" fill="#ffffff"/>
<rect x="238.06" y="735.3" width="23.2" height="24.7" fill="#ffffff"/>
<rect x="260.96" y="735.3" width="23.2" height="24.7" fill="#fcf7f8"/>
<rect x="283.85" y="735.3" width="23.2" height="24.7" fill="#ffffff"/>
<rect x="306.75" y="735.3" width="23.2" height="24.7" fill="#a8a8d7"/>
<rect x="329.64" y="735.3" width="23.2" height="24.7" fill="#8586c4"/>
<rect x="352.54" y="735.3" width="23.2" height="24.7" fill="#9797ce"/>
<rect x="375.43" y="735.3" width="23.2" height="24.7" fill="#7274ba"/>
<rect x="398.33" y="735.3" width="23.2" height="24.7" fill="#d2d0e8"/>
<rect x="421.23" y="735.3" width="23.2" height="24.7" fill="#ffffff"/>
<rect x="444.12" y="735.3" width="23.2" height="24.7" fill="#b9b8de"/>
<rect x="467.02" y="735.3" width="23.2" height="24.7" fill="#7d7ebf"/>
<rect x="489.91" y="735.3" width="23.2" height="24.7" fill="#a0a0d3"/>
<rect x="512.81" y="735.3" width="23.2" height="24.7" fill="#a8a8d7"/>
<rect x="535.7" y="735.3" width="23.2" height="24.7" fill="#c2c0e1"/>
<rect x="32" y="759.7" width="23.2" height="24.7" fill="#f8eaec"/>
<rect x="54.9" y="759.7" width="23.2" height="24.7" fill="#ea8a8f"/>
<rect x="77.79" y="759.7" width="23.2" height="24.7" fill="#fdfafa"/>
<rect x="100.69" y="759.7" width="23.2" height="24.7" fill="#e4e3f1"/>
<rect x="123.58" y="759.7" width="23.2" height="24.7" fill="#ffffff"/>
<rect x="146.48" y="759.7" width="23.2" height="24.7" fill="#f6e5e8"/>
<rect x="169.37" y="759.7" width="23.2" height="24.7" fill="#e4e3f1"/>
<rect x="192.27" y="759.7" width="23.2" height="24.7" fill="#fafafd"/>
<rect x="215.17" y="759.7" width="23.2" height="24.7" fill="#fefcfd"/>
<rect x="238.06" y="759.7" width="23.2" height="24.7" fill="#ffffff"/>
<rect x="260.96" y="759.7" width="23.2" height="24.7" fill="#fdfafa"/>
<rect x="283.85" y="759.7" width="23.2" height="24.7" fill="#ffffff"/>
<rect x="306.75" y="759.7" width="23.2" height="24.7" fill="#7072b8"/>
<rect x="329.64" y="759.7" width="23.2" height="24.7" fill="#7274ba"/>
<rect x="352.54" y="759.7" width="23.2" height="24.7" fill="#7072b8"/>
<rect x="375.43" y="759.7" width="23.2" height="24.7" fill="#8586c4"/>
<rect x="398.33" y="759.7" width="23.2" height="24.7" fill="#efc1c6"/>
<rect x="421.23" y="759.7" width="23.2" height="24.7" fill="#ffffff"/>
<rect x="444.12" y="759.7" width="23.2" height="24.7" fill="#bcbbdf"/>
<rect x="467.02" y="759.7" width="23.2" height="24.7" fill="#898ac7"/>
<rect x="489.91" y="759.7" width="23.2" height="24.7" fill="#797abd"/>
<rect x="512.81" y="759.7" width="23.2" height="24.7" fill="#9797ce"/>
<rect x="535.7" y="759.7" width="23.2" height="24.7" fill="#7f80c1"/>
<rect x="32" y="784.1" width="23.2" height="24.7" fill="#fdfafa"/>
<rect x="54.9" y="784.1" width="23.2" height="24.7" fill="#e4e3f1"/>
<rect x="77.79" y="784.1" width="23.2" height="24.7" fill="#ffffff"/>
<rect x="100.69" y="784.1" width="23.2" height="24.7" fill="#c2c0e1"/>
<rect x="123.58" y="784.1" width="23.2" height="24.7" fill="#ffffff"/>
<rect x="146.48" y="784.1" width="23.2" height="24.7" fill="#f7e8ea"/>
<rect x="169.37" y="784.1" width="23.2" height="24.7" fill="#dadaec"/>
<rect x="192.27" y="784.1" width="23.2" height="24.7" fill="#f1f1f8"/>
<rect x="215.17" y="784.1" width="23.2" height="24.7" fill="#fcf4f6"/>
<rect x="238.06" y="784.1" width="23.2" height="24.7" fill="#fdfafa"/>
<rect x="260.96" y="784.1" width="23.2" height="24.7" fill="#ffffff"/>
<rect x="283.85" y="784.1" width="23.2" height="24.7" fill="#ffffff"/>
<rect x="306.75" y="784.1" width="23.2" height="24.7" fill="#e4e3f1"/>
<rect x="329.64" y="784.1" width="23.2" height="24.7" fill="#cac8e5"/>
<rect x="352.54" y="784.1" width="23.2" height="24.7" fill="#d6d5ea"/>
<rect x="375.43" y="784.1" width="23.2" height="24.7" fill="#dfdeef"/>
<rect x="398.33" y="784.1" width="23.2" height="24.7" fill="#e4e3f1"/>
<rect x="421.23" y="784.1" width="23.2" height="24.7" fill="#cac8e5"/>
<rect x="444.12" y="784.1" width="23.2" height="24.7" fill="#c2c0e1"/>
<rect x="467.02" y="784.1" width="23.2" height="24.7" fill="#8e8ec9"/>
<rect x="489.91" y="784.1" width="23.2" height="24.7" fill="#fafafd"/>
<rect x="512.81" y="784.1" width="23.2" height="24.7" fill="#8e8ec9"/>
<rect x="535.7" y="784.1" width="23.2" height="24.7" fill="#a0a0d3"/>
<rect x="32" y="808.5" width="23.2" height="24.7" fill="#f6e5e8"/>
<rect x="54.9" y="808.5" width="23.2" height="24.7" fill="#a5a5d5"/>
<rect x="77.79" y="808.5" width="23.2" height="24.7" fill="#fdfafa"/>
<rect x="100.69" y="808.5" width="23.2" height="24.7" fill="#fdfafa"/>
<rect x="123.58" y="808.5" width="23.2" height="24.7" fill="#fcf4f6"/>
<rect x="146.48" y="808.5" width="23.2" height="24.7" fill="#d6d5ea"/>
<rect x="169.37" y="808.5" width="23.2" height="24.7" fill="#fcf4f6"/>
<rect x="192.27" y="808.5" width="23.2" height="24.7" fill="#eaeaf4"/>
<rect x="215.17" y="808.5" width="23.2" height="24.7" fill="#ffffff"/>
<rect x="238.06" y="808.5" width="23.2" height="24.7" fill="#ffffff"/>
<rect x="260.96" y="808.5" width="23.2" height="24.7" fill="#fdfafa"/>
<rect x="283.85" y="808.5" width="23.2" height="24.7" fill="#ffffff"/>
<rect x="306.75" y="808.5" width="23.2" height="24.7" fill="#4256a6"/>
<rect x="329.64" y="808.5" width="23.2" height="24.7" fill="#555fad"/>
<rect x="352.54" y="808.5" width="23.2" height="24.7" fill="#d2d0e8"/>
<rect x="375.43" y="808.5" width="23.2" height="24.7" fill="#b9b8de"/>
<rect x="398.33" y="808.5" width="23.2" height="24.7" fill="#f0cacf"/>
<rect x="421.23" y="808.5" width="23.2" height="24.7" fill="#d6d5ea"/>
<rect x="444.12" y="808.5" width="23.2" height="24.7" fill="#faeff1"/>
<rect x="467.02" y="808.5" width="23.2" height="24.7" fill="#c2c0e1"/>
<rect x="489.91" y="808.5" width="23.2" height="24.7" fill="#b1b0da"/>
<rect x="512.81" y="808.5" width="23.2" height="24.7" fill="#5862ae"/>
<rect x="535.7" y="808.5" width="23.2" height="24.7" fill="#c2c0e1"/>
<rect x="32" y="832.9" width="23.2" height="24.7" fill="#2f3593"/>
<rect x="54.9" y="832.9" width="23.2" height="24.7" fill="#a0a0d3"/>
<rect x="77.79" y="832.9" width="23.2" height="24.7" fill="#fafafd"/>
<rect x="100.69" y="832.9" width="23.2" height="24.7" fill="#fbf2f3"/>
<rect x="123.58" y="832.9" width="23.2" height="24.7" fill="#b1b0da"/>
<rect x="146.48" y="832.9" width="23.2" height="24.7" fill="#f6e5e8"/>
<rect x="169.37" y="832.9" width="23.2" height="24.7" fill="#fdfafa"/>
<rect x="192.27" y="832.9" width="23.2" height="24.7" fill="#ffffff"/>
<rect x="215.17" y="832.9" width="23.2" height="24.7" fill="#fdfafa"/>
<rect x="238.06" y="832.9" width="23.2" height="24.7" fill="#ffffff"/>
<rect x="260.96" y="832.9" width="23.2" height="24.7" fill="#ffffff"/>
<rect x="283.85" y="832.9" width="23.2" height="24.7" fill="#ffffff"/>
<rect x="306.75" y="832.9" width="23.2" height="24.7" fill="#f02629"/>
<rect x="329.64" y="832.9" width="23.2" height="24.7" fill="#b92327"/>
<rect x="352.54" y="832.9" width="23.2" height="24.7" fill="#b32126"/>
<rect x="375.43" y="832.9" width="23.2" height="24.7" fill="#7b1217"/>
<rect x="398.33" y="832.9" width="23.2" height="24.7" fill="#f0272a"/>
<rect x="421.23" y="832.9" width="23.2" height="24.7" fill="#e77075"/>
<rect x="444.12" y="832.9" width="23.2" height="24.7" fill="#ee2d30"/>
<rect x="467.02" y="832.9" width="23.2" height="24.7" fill="#ea8a8f"/>
<rect x="489.91" y="832.9" width="23.2" height="24.7" fill="#ea3c40"/>
<rect x="512.81" y="832.9" width="23.2" height="24.7" fill="#f6e5e8"/>
<rect x="535.7" y="832.9" width="23.2" height="24.7" fill="#efb7bc"/>
<rect x="32.5" y="613.8" width="526.1" height="243.5" fill="none" stroke="#444" stroke-width="1"/>
<line x1="43.45" x2="43.45" y1="857.3" y2="860.3" stroke="#333" stroke-width="0.9"/>
<text class="lb" transform="translate(46.15,865) rotate(-90)" text-anchor="end" font-size="8.9" fill="#1e1e1e" textLength="16.96" lengthAdjust="spacingAndGlyphs">HK2</text>
<line x1="66.34" x2="66.34" y1="857.3" y2="860.3" stroke="#333" stroke-width="0.9"/>
<text class="lb" transform="translate(69.04,865) rotate(-90)" text-anchor="end" font-size="8.9" fill="#1e1e1e" textLength="20.23" lengthAdjust="spacingAndGlyphs">PFKP</text>
<line x1="89.24" x2="89.24" y1="857.3" y2="860.3" stroke="#333" stroke-width="0.9"/>
<text class="lb" transform="translate(91.94,865) rotate(-90)" text-anchor="end" font-size="8.9" fill="#1e1e1e" textLength="30.97" lengthAdjust="spacingAndGlyphs">PFKFB3</text>
<line x1="112.13" x2="112.13" y1="857.3" y2="860.3" stroke="#333" stroke-width="0.9"/>
<text class="lb" transform="translate(114.83,865) rotate(-90)" text-anchor="end" font-size="8.9" fill="#1e1e1e" textLength="37.02" lengthAdjust="spacingAndGlyphs">PPP2R1A</text>
<line x1="135.03" x2="135.03" y1="857.3" y2="860.3" stroke="#333" stroke-width="0.9"/>
<text class="lb" transform="translate(137.73,865) rotate(-90)" text-anchor="end" font-size="8.9" fill="#1e1e1e" textLength="30.97" lengthAdjust="spacingAndGlyphs">PFKFB2</text>
<line x1="157.93" x2="157.93" y1="857.3" y2="860.3" stroke="#333" stroke-width="0.9"/>
<text class="lb" transform="translate(160.63,865) rotate(-90)" text-anchor="end" font-size="8.9" fill="#1e1e1e" textLength="31.77" lengthAdjust="spacingAndGlyphs">PPP2CA</text>
<line x1="180.82" x2="180.82" y1="857.3" y2="860.3" stroke="#333" stroke-width="0.9"/>
<text class="lb" transform="translate(183.52,865) rotate(-90)" text-anchor="end" font-size="8.9" fill="#1e1e1e" textLength="23.27" lengthAdjust="spacingAndGlyphs">ENO2</text>
<line x1="203.72" x2="203.72" y1="857.3" y2="860.3" stroke="#333" stroke-width="0.9"/>
<text class="lb" transform="translate(206.42,865) rotate(-90)" text-anchor="end" font-size="8.9" fill="#1e1e1e" textLength="22.38" lengthAdjust="spacingAndGlyphs">PFKM</text>
<line x1="226.61" x2="226.61" y1="857.3" y2="860.3" stroke="#333" stroke-width="0.9"/>
<text class="lb" transform="translate(229.31,865) rotate(-90)" text-anchor="end" font-size="8.9" fill="#1e1e1e" textLength="31.79" lengthAdjust="spacingAndGlyphs">PPP2CB</text>
<line x1="249.51" x2="249.51" y1="857.3" y2="860.3" stroke="#333" stroke-width="0.9"/>
<text class="lb" transform="translate(252.21,865) rotate(-90)" text-anchor="end" font-size="8.9" fill="#1e1e1e" textLength="37.74" lengthAdjust="spacingAndGlyphs">PPP2R5D</text>
<line x1="272.4" x2="272.4" y1="857.3" y2="860.3" stroke="#333" stroke-width="0.9"/>
<text class="lb" transform="translate(275.1,865) rotate(-90)" text-anchor="end" font-size="8.9" fill="#1e1e1e" textLength="30.97" lengthAdjust="spacingAndGlyphs">PFKFB4</text>
<line x1="295.3" x2="295.3" y1="857.3" y2="860.3" stroke="#333" stroke-width="0.9"/>
<text class="lb" transform="translate(298,865) rotate(-90)" text-anchor="end" font-size="8.9" fill="#1e1e1e" textLength="23.27" lengthAdjust="spacingAndGlyphs">ENO3</text>
<line x1="318.2" x2="318.2" y1="857.3" y2="860.3" stroke="#333" stroke-width="0.9"/>
<text class="lb" transform="translate(320.9,865) rotate(-90)" text-anchor="end" font-size="8.9" fill="#1e1e1e" textLength="23.27" lengthAdjust="spacingAndGlyphs">ENO1</text>
<line x1="341.09" x2="341.09" y1="857.3" y2="860.3" stroke="#333" stroke-width="0.9"/>
<text class="lb" transform="translate(343.79,865) rotate(-90)" text-anchor="end" font-size="8.9" fill="#1e1e1e" textLength="29.75" lengthAdjust="spacingAndGlyphs">GAPDH</text>
<line x1="363.99" x2="363.99" y1="857.3" y2="860.3" stroke="#333" stroke-width="0.9"/>
<text class="lb" transform="translate(366.69,865) rotate(-90)" text-anchor="end" font-size="8.9" fill="#1e1e1e" textLength="28.9" lengthAdjust="spacingAndGlyphs">ALDOA</text>
<line x1="386.88" x2="386.88" y1="857.3" y2="860.3" stroke="#333" stroke-width="0.9"/>
<text class="lb" transform="translate(389.58,865) rotate(-90)" text-anchor="end" font-size="8.9" fill="#1e1e1e" textLength="17.8" lengthAdjust="spacingAndGlyphs">TPI1</text>
<line x1="409.78" x2="409.78" y1="857.3" y2="860.3" stroke="#333" stroke-width="0.9"/>
<text class="lb" transform="translate(412.48,865) rotate(-90)" text-anchor="end" font-size="8.9" fill="#1e1e1e" textLength="16.96" lengthAdjust="spacingAndGlyphs">HK1</text>
<line x1="432.67" x2="432.67" y1="857.3" y2="860.3" stroke="#333" stroke-width="0.9"/>
<text class="lb" transform="translate(435.37,865) rotate(-90)" text-anchor="end" font-size="8.9" fill="#1e1e1e" textLength="19.85" lengthAdjust="spacingAndGlyphs">PFKL</text>
<line x1="455.57" x2="455.57" y1="857.3" y2="860.3" stroke="#333" stroke-width="0.9"/>
<text class="lb" transform="translate(458.27,865) rotate(-90)" text-anchor="end" font-size="8.9" fill="#1e1e1e" textLength="13.88" lengthAdjust="spacingAndGlyphs">GPI</text>
<line x1="478.47" x2="478.47" y1="857.3" y2="860.3" stroke="#333" stroke-width="0.9"/>
<text class="lb" transform="translate(481.17,865) rotate(-90)" text-anchor="end" font-size="8.9" fill="#1e1e1e" textLength="22.16" lengthAdjust="spacingAndGlyphs">PGK1</text>
<line x1="501.36" x2="501.36" y1="857.3" y2="860.3" stroke="#333" stroke-width="0.9"/>
<text class="lb" transform="translate(504.06,865) rotate(-90)" text-anchor="end" font-size="8.9" fill="#1e1e1e" textLength="29.56" lengthAdjust="spacingAndGlyphs">PGAM1</text>
<line x1="524.26" x2="524.26" y1="857.3" y2="860.3" stroke="#333" stroke-width="0.9"/>
<text class="lb" transform="translate(526.96,865) rotate(-90)" text-anchor="end" font-size="8.9" fill="#1e1e1e" textLength="29.02" lengthAdjust="spacingAndGlyphs">ALDOC</text>
<line x1="547.15" x2="547.15" y1="857.3" y2="860.3" stroke="#333" stroke-width="0.9"/>
<text class="lb" transform="translate(549.85,865) rotate(-90)" text-anchor="end" font-size="8.9" fill="#1e1e1e" textLength="17.61" lengthAdjust="spacingAndGlyphs">PKM</text>
<line x1="558.6" x2="561.4" y1="625.5" y2="625.5" stroke="#333" stroke-width="0.9"/>
<text class="lb" x="563.5" y="629.7" font-size="10" fill="#1e1e1e" textLength="83.41" lengthAdjust="spacingAndGlyphs">AC_Ifnb_Control_wilx</text>
<line x1="558.6" x2="561.4" y1="649.9" y2="649.9" stroke="#333" stroke-width="0.9"/>
<text class="lb" x="563.5" y="654.1" font-size="10" fill="#1e1e1e" textLength="83.42" lengthAdjust="spacingAndGlyphs">BC_Ifnb_Control_wilx</text>
<line x1="558.6" x2="561.4" y1="674.3" y2="674.3" stroke="#333" stroke-width="0.9"/>
<text class="lb" x="563.5" y="678.5" font-size="10" fill="#1e1e1e" textLength="85.88" lengthAdjust="spacingAndGlyphs">Mic_Ifnb_Control_wilx</text>
<line x1="558.6" x2="561.4" y1="698.7" y2="698.7" stroke="#333" stroke-width="0.9"/>
<text class="lb" x="563.5" y="702.9" font-size="10" fill="#1e1e1e" textLength="92.84" lengthAdjust="spacingAndGlyphs">Cone_Ifnb_Control_wilx</text>
<line x1="558.6" x2="561.4" y1="723.1" y2="723.1" stroke="#333" stroke-width="0.9"/>
<text class="lb" x="563.5" y="727.3" font-size="10" fill="#1e1e1e" textLength="98.2" lengthAdjust="spacingAndGlyphs">OFFBP_Ifnb_Control_wilx</text>
<line x1="558.6" x2="561.4" y1="747.5" y2="747.5" stroke="#333" stroke-width="0.9"/>
<text class="lb" x="563.5" y="751.7" font-size="10" fill="#1e1e1e" textLength="102.33" lengthAdjust="spacingAndGlyphs">ScgnBP_Ifnb_Control_wilx</text>
<line x1="558.6" x2="561.4" y1="771.9" y2="771.9" stroke="#333" stroke-width="0.9"/>
<text class="lb" x="563.5" y="776.1" font-size="10" fill="#1e1e1e" textLength="94.97" lengthAdjust="spacingAndGlyphs">ONBP_Ifnb_Control_wilx</text>
<line x1="558.6" x2="561.4" y1="796.3" y2="796.3" stroke="#333" stroke-width="0.9"/>
<text class="lb" x="563.5" y="800.5" font-size="10" fill="#1e1e1e" textLength="88.23" lengthAdjust="spacingAndGlyphs">RBP_Ifnb_Control_wilx</text>
<line x1="558.6" x2="561.4" y1="820.7" y2="820.7" stroke="#333" stroke-width="0.9"/>
<text class="lb" x="563.5" y="824.9" font-size="10" fill="#1e1e1e" textLength="84.84" lengthAdjust="spacingAndGlyphs">MC_Ifnb_Control_wilx</text>
<line x1="558.6" x2="561.4" y1="845.1" y2="845.1" stroke="#333" stroke-width="0.9"/>
<text class="lb" x="563.5" y="849.3" font-size="10" fill="#1e1e1e" textLength="87.89" lengthAdjust="spacingAndGlyphs">Rod_Ifnb_Control_wilx</text>
<circle cx="527.1" cy="382" r="3.1" fill="rgb(100,100,100)"/>
<text class="lg" x="534.5" y="386" font-size="10.1" font-weight="bold" fill="#1a1a1a" textLength="103.82" lengthAdjust="spacingAndGlyphs">Rod bipolar cell (RBP)</text>
<circle cx="527.1" cy="399.2" r="3.1" fill="rgb(140,140,140)"/>
<text class="lg" x="534.5" y="402.6" font-size="10.1" font-weight="bold" fill="#1a1a1a" textLength="126.55" lengthAdjust="spacingAndGlyphs">Scgn-bipolar cell (ScgnBP)</text>
<circle cx="527.1" cy="416.1" r="3.1" fill="rgb(125,125,125)"/>
<text class="lg" x="536" y="419.7" font-size="10.1" font-weight="bold" fill="#1a1a1a" textLength="72.91" lengthAdjust="spacingAndGlyphs">Müller cell (MC)</text>
<circle cx="527.1" cy="433.3" r="3.1" fill="rgb(75,75,75)"/>
<text class="lg" x="534" y="435.9" font-size="10.1" font-weight="bold" fill="#1a1a1a" textLength="110.45" lengthAdjust="spacingAndGlyphs">ON- bipolar cell (ONBP)</text>
<circle cx="527.1" cy="450.3" r="3.1" fill="rgb(100,100,100)"/>
<text class="lg" x="534" y="453.2" font-size="10.1" font-weight="bold" fill="#1a1a1a" textLength="117.53" lengthAdjust="spacingAndGlyphs">OFF-bipolar cell (OFFBP)</text>
<circle cx="527.1" cy="467.5" r="3.1" fill="rgb(85,85,85)"/>
<text class="lg" x="535.9" y="471.1" font-size="10.1" font-weight="bold" fill="#1a1a1a" textLength="86.72" lengthAdjust="spacingAndGlyphs">Amacrine cell (AC)</text>
<circle cx="527.1" cy="484.6" r="3.1" fill="rgb(135,135,135)"/>
<text class="lg" x="534.6" y="488" font-size="10.1" font-weight="bold" fill="#1a1a1a" textLength="94.09" lengthAdjust="spacingAndGlyphs">B lymphocytes (BC)</text>
<circle cx="527.1" cy="501.6" r="3.1" fill="rgb(180,180,180)"/>
<text class="lg" x="534.6" y="505.3" font-size="10.1" font-weight="bold" fill="#1a1a1a" textLength="112.96" lengthAdjust="spacingAndGlyphs">Retinal cone cell (Cone)</text>
<circle cx="527.1" cy="520" r="3.1" fill="rgb(90,90,90)"/>
<text class="lg" x="534.6" y="522.8" font-size="10.1" font-weight="bold" fill="#1a1a1a" textLength="98.93" lengthAdjust="spacingAndGlyphs">Retinal rod cell (Rod)</text>
<circle cx="527.1" cy="537.3" r="3.1" fill="rgb(135,135,135)"/>
<text class="lg" x="534.6" y="540.8" font-size="10.1" font-weight="bold" fill="#1a1a1a" textLength="88.26" lengthAdjust="spacingAndGlyphs">Microglia cell (Mic)</text>
</svg></body></html>
